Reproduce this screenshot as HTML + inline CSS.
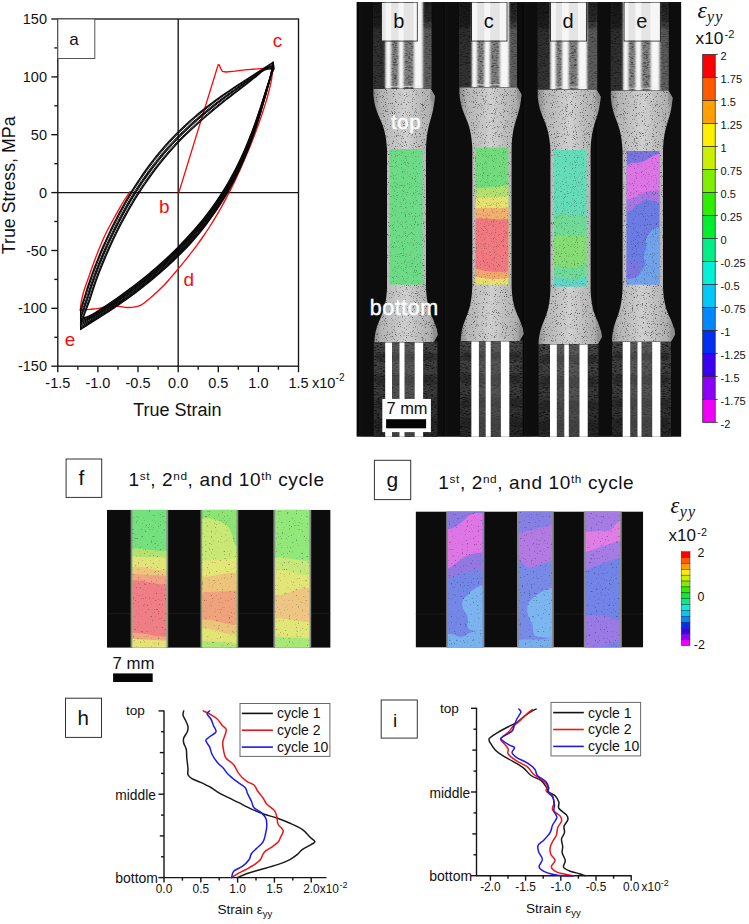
<!DOCTYPE html>
<html><head><meta charset="utf-8"><title>Figure</title>
<style>
html,body{margin:0;padding:0;background:#fff;}
body{width:749px;height:924px;overflow:hidden;font-family:"Liberation Sans",sans-serif;}
svg{display:block;position:absolute;left:0;top:0;font-family:"Liberation Sans",sans-serif;}
</style></head><body>
<svg width="749" height="924" viewBox="0 0 749 924">
<rect x="0" y="0" width="749" height="924" fill="#ffffff"/>
<g id="panelA">
<rect x="57.8" y="19.0" width="240.7" height="347.2" fill="none" stroke="#151515" stroke-width="1.35"/>
<line x1="178.2" y1="19.0" x2="178.2" y2="366.2" stroke="#151515" stroke-width="1.35"/>
<line x1="57.8" y1="192.6" x2="298.5" y2="192.6" stroke="#151515" stroke-width="1.35"/>
<line x1="51.3" y1="366.2" x2="57.8" y2="366.2" stroke="#151515" stroke-width="1.35"/>
<text x="47.0" y="371.3" font-size="14.5" text-anchor="end" fill="#111" >-150</text>
<line x1="54.3" y1="337.3" x2="57.8" y2="337.3" stroke="#151515" stroke-width="1.35"/>
<line x1="51.3" y1="308.3" x2="57.8" y2="308.3" stroke="#151515" stroke-width="1.35"/>
<text x="47.0" y="313.4" font-size="14.5" text-anchor="end" fill="#111" >-100</text>
<line x1="54.3" y1="279.4" x2="57.8" y2="279.4" stroke="#151515" stroke-width="1.35"/>
<line x1="51.3" y1="250.5" x2="57.8" y2="250.5" stroke="#151515" stroke-width="1.35"/>
<text x="47.0" y="255.6" font-size="14.5" text-anchor="end" fill="#111" >-50</text>
<line x1="54.3" y1="221.5" x2="57.8" y2="221.5" stroke="#151515" stroke-width="1.35"/>
<line x1="51.3" y1="192.6" x2="57.8" y2="192.6" stroke="#151515" stroke-width="1.35"/>
<text x="47.0" y="197.7" font-size="14.5" text-anchor="end" fill="#111" >0</text>
<line x1="54.3" y1="163.7" x2="57.8" y2="163.7" stroke="#151515" stroke-width="1.35"/>
<line x1="51.3" y1="134.7" x2="57.8" y2="134.7" stroke="#151515" stroke-width="1.35"/>
<text x="47.0" y="139.8" font-size="14.5" text-anchor="end" fill="#111" >50</text>
<line x1="54.3" y1="105.8" x2="57.8" y2="105.8" stroke="#151515" stroke-width="1.35"/>
<line x1="51.3" y1="76.9" x2="57.8" y2="76.9" stroke="#151515" stroke-width="1.35"/>
<text x="47.0" y="82.0" font-size="14.5" text-anchor="end" fill="#111" >100</text>
<line x1="54.3" y1="47.9" x2="57.8" y2="47.9" stroke="#151515" stroke-width="1.35"/>
<line x1="51.3" y1="19.0" x2="57.8" y2="19.0" stroke="#151515" stroke-width="1.35"/>
<text x="47.0" y="24.1" font-size="14.5" text-anchor="end" fill="#111" >150</text>
<line x1="57.8" y1="366.2" x2="57.8" y2="372.2" stroke="#151515" stroke-width="1.35"/>
<text x="57.8" y="388.0" font-size="14.5" text-anchor="middle" fill="#111" >-1.5</text>
<line x1="77.9" y1="366.2" x2="77.9" y2="369.7" stroke="#151515" stroke-width="1.35"/>
<line x1="97.9" y1="366.2" x2="97.9" y2="372.2" stroke="#151515" stroke-width="1.35"/>
<text x="97.9" y="388.0" font-size="14.5" text-anchor="middle" fill="#111" >-1.0</text>
<line x1="118.0" y1="366.2" x2="118.0" y2="369.7" stroke="#151515" stroke-width="1.35"/>
<line x1="138.0" y1="366.2" x2="138.0" y2="372.2" stroke="#151515" stroke-width="1.35"/>
<text x="138.0" y="388.0" font-size="14.5" text-anchor="middle" fill="#111" >-0.5</text>
<line x1="158.1" y1="366.2" x2="158.1" y2="369.7" stroke="#151515" stroke-width="1.35"/>
<line x1="178.2" y1="366.2" x2="178.2" y2="372.2" stroke="#151515" stroke-width="1.35"/>
<text x="178.2" y="388.0" font-size="14.5" text-anchor="middle" fill="#111" >0.0</text>
<line x1="198.2" y1="366.2" x2="198.2" y2="369.7" stroke="#151515" stroke-width="1.35"/>
<line x1="218.3" y1="366.2" x2="218.3" y2="372.2" stroke="#151515" stroke-width="1.35"/>
<text x="218.3" y="388.0" font-size="14.5" text-anchor="middle" fill="#111" >0.5</text>
<line x1="238.3" y1="366.2" x2="238.3" y2="369.7" stroke="#151515" stroke-width="1.35"/>
<line x1="258.4" y1="366.2" x2="258.4" y2="372.2" stroke="#151515" stroke-width="1.35"/>
<text x="258.4" y="388.0" font-size="14.5" text-anchor="middle" fill="#111" >1.0</text>
<line x1="278.4" y1="366.2" x2="278.4" y2="369.7" stroke="#151515" stroke-width="1.35"/>
<line x1="298.5" y1="366.2" x2="298.5" y2="372.2" stroke="#151515" stroke-width="1.35"/>
<text x="298.5" y="388.0" font-size="14.5" text-anchor="middle" fill="#111" >1.5</text>
<text x="312" y="388.0" font-size="14.5" text-anchor="start" fill="#111" >x10</text>
<text x="335.6" y="381" font-size="10" text-anchor="start" fill="#111" >-2</text>
<text x="177.4" y="416.3" font-size="18" text-anchor="middle" fill="#111" >True Strain</text>
<text transform="translate(14.6,185.3) rotate(-90)" font-size="17.8" text-anchor="middle" fill="#111">True Stress, MPa</text>
<rect x="57.8" y="19.0" width="37" height="39.5" fill="#fff" stroke="#555" stroke-width="1"/>
<text x="74" y="45.3" font-size="17" text-anchor="middle" fill="#111" >a</text>
<path d="M178.9,192.4 L218.2,64.6 L219.3,64.8 L220.6,68.5 L222.4,71.3 L226.0,72.0 L235.0,71.2 L245.0,69.8 L258.0,68.8 L272.7,67.6" fill="none" stroke="#fa0a0a" stroke-width="1.35" stroke-linejoin="round" stroke-linecap="round" />
<path d="M272.9,67.6 C272.7,69.4 272.3,74.8 271.7,78.3 C271.1,81.8 270.3,85.3 269.5,88.8 C268.7,92.3 267.7,95.7 266.8,99.1 C265.8,102.6 264.7,106.0 263.6,109.4 C262.5,112.9 261.4,116.3 260.2,119.6 C259.0,123.0 257.8,126.4 256.5,129.8 C255.2,133.2 254.0,136.5 252.6,139.9 C251.3,143.2 250.0,146.5 248.6,149.9 C247.2,153.2 245.8,156.5 244.4,159.8 C243.0,163.1 241.5,166.4 240.1,169.7 C238.6,172.9 237.1,176.2 235.6,179.4 C234.0,182.7 232.5,185.9 230.9,189.1 C229.3,192.3 227.6,195.5 226.0,198.6 C224.3,201.8 222.6,204.9 220.8,208.1 C219.1,211.2 217.3,214.3 215.4,217.3 C213.6,220.4 211.7,223.5 209.8,226.5 C207.8,229.5 205.9,232.5 203.8,235.5 C201.8,238.4 199.7,241.4 197.6,244.3 C195.5,247.2 193.3,250.1 191.1,252.9 C188.9,255.8 186.7,258.6 184.4,261.4 C182.1,264.2 179.8,267.0 177.5,269.7 C175.2,272.5 172.9,275.2 170.5,277.9 C168.2,280.5 166.5,282.6 163.4,285.8 C160.3,289.0 155.4,293.6 151.7,296.8 C148.0,300.0 144.3,303.2 141.4,304.9 C138.5,306.6 136.5,306.7 134.1,307.1 C131.7,307.5 129.2,307.6 126.7,307.5 C124.2,307.4 121.9,306.6 119.4,306.4 C117.0,306.2 114.5,306.0 112.0,306.1 C109.5,306.2 107.2,306.7 104.7,307.1 C102.2,307.5 99.8,308.2 97.3,308.6 C94.8,309.0 92.8,309.0 90.0,309.3 C87.2,309.6 81.9,310.1 80.3,310.2" fill="none" stroke="#fa0a0a" stroke-width="1.35" stroke-linejoin="round" stroke-linecap="round" />
<path d="M80.3,310.2 C80.5,308.8 80.7,305.0 81.2,302.0 C81.8,299.0 82.4,296.0 83.6,292.0 C84.8,288.0 86.6,283.1 88.4,278.0 C90.2,272.9 92.2,266.8 94.2,261.5 C96.2,256.2 98.2,251.0 100.3,246.0 C102.4,241.0 104.5,236.1 106.8,231.5 C109.0,226.9 111.5,222.8 113.8,218.5 C116.1,214.2 118.8,209.5 120.8,206.0 C122.8,202.5 124.4,199.9 126.0,197.5 C127.6,195.1 129.5,192.5 130.2,191.5" fill="none" stroke="#fa0a0a" stroke-width="1.35" stroke-linejoin="round" stroke-linecap="round" />
<path d="M80.6,309.5 C81.2,307.6 83.1,301.9 84.3,298.1 C85.5,294.2 86.6,290.4 87.8,286.6 C89.1,282.8 90.4,279.0 91.7,275.3 C93.0,271.6 94.4,267.8 95.9,264.1 C97.3,260.4 98.8,256.7 100.3,253.1 C101.8,249.4 103.4,245.7 105.1,242.1 C106.7,238.5 108.4,234.8 110.1,231.2 C111.8,227.6 113.6,224.1 115.4,220.5 C117.2,216.9 119.0,213.4 121.0,209.9 C122.9,206.4 124.8,202.9 126.8,199.4 C128.9,196.0 130.9,192.6 133.0,189.2 C135.2,185.8 137.3,182.4 139.6,179.1 C141.8,175.8 144.1,172.5 146.4,169.3 C148.7,166.1 151.1,162.9 153.6,159.8 C156.0,156.6 158.5,153.5 161.1,150.5 C163.7,147.5 166.3,144.5 169.0,141.6 C171.7,138.6 174.4,135.8 177.2,133.0 C180.1,130.1 182.9,127.4 185.8,124.7 C188.8,122.0 191.7,119.4 194.8,116.8 C197.8,114.2 200.9,111.7 204.0,109.2 C207.1,106.7 210.3,104.3 213.5,101.9 C216.7,99.5 220.0,97.2 223.2,94.9 C226.5,92.6 229.8,90.4 233.2,88.1 C236.5,85.9 239.9,83.7 243.2,81.6 C246.6,79.4 250.0,77.2 253.3,75.1 C256.7,72.9 260.1,70.7 263.4,68.6 C266.7,66.4 271.7,63.3 273.3,62.2" fill="none" stroke="#0a0a0a" stroke-width="1.5" stroke-linejoin="round" stroke-linecap="round" />
<path d="M80.6,311.8 C81.4,309.5 83.8,302.4 85.1,298.3 C86.5,294.1 87.4,290.7 88.7,286.9 C89.9,283.1 91.2,279.3 92.5,275.6 C93.9,271.9 95.3,268.2 96.7,264.5 C98.2,260.8 99.6,257.1 101.2,253.4 C102.7,249.8 104.3,246.1 105.9,242.5 C107.6,238.9 109.2,235.3 111.0,231.7 C112.7,228.1 114.4,224.5 116.3,221.0 C118.1,217.4 119.9,213.9 121.9,210.4 C123.8,206.9 125.7,203.4 127.7,200.0 C129.8,196.5 131.8,193.1 133.9,189.7 C136.0,186.4 138.2,183.0 140.4,179.7 C142.7,176.4 144.9,173.2 147.3,169.9 C149.6,166.7 152.0,163.6 154.4,160.4 C156.9,157.3 159.4,154.2 162.0,151.2 C164.5,148.2 167.1,145.2 169.8,142.3 C172.5,139.4 175.2,136.5 178.0,133.7 C180.8,130.9 183.7,128.2 186.6,125.5 C189.5,122.8 192.4,120.2 195.4,117.6 C198.5,115.0 201.5,112.5 204.6,110.0 C207.7,107.5 210.9,105.1 214.0,102.7 C217.2,100.3 220.5,97.9 223.7,95.6 C227.0,93.3 230.3,91.0 233.6,88.7 C236.9,86.5 240.2,84.3 243.6,82.1 C246.9,79.8 250.3,77.6 253.6,75.4 C256.9,73.2 260.2,70.8 263.5,68.8 C266.8,66.8 271.7,64.1 273.4,63.2" fill="none" stroke="#0a0a0a" stroke-width="1.0" stroke-linejoin="round" stroke-linecap="round" />
<path d="M80.6,315.1 C81.6,312.3 84.8,303.3 86.4,298.6 C87.9,294.0 88.7,291.0 89.9,287.3 C91.2,283.5 92.5,279.8 93.8,276.0 C95.1,272.3 96.5,268.6 98.0,264.9 C99.4,261.3 100.9,257.6 102.5,254.0 C104.0,250.3 105.6,246.7 107.2,243.1 C108.9,239.5 110.5,235.9 112.3,232.3 C114.0,228.7 115.7,225.1 117.6,221.6 C119.4,218.1 121.2,214.6 123.2,211.1 C125.1,207.6 127.0,204.1 129.0,200.7 C131.1,197.3 133.1,193.9 135.2,190.5 C137.4,187.2 139.5,183.9 141.7,180.6 C144.0,177.3 146.2,174.1 148.6,170.9 C150.9,167.7 153.3,164.5 155.7,161.4 C158.1,158.3 160.6,155.2 163.2,152.2 C165.7,149.2 168.3,146.3 171.0,143.4 C173.7,140.5 176.4,137.7 179.2,134.9 C181.9,132.1 184.8,129.4 187.7,126.7 C190.5,124.0 193.5,121.4 196.5,118.8 C199.4,116.2 202.5,113.6 205.5,111.1 C208.6,108.6 211.7,106.2 214.9,103.8 C218.0,101.3 221.2,99.0 224.4,96.6 C227.6,94.3 230.9,91.9 234.2,89.6 C237.4,87.3 240.7,85.1 244.0,82.8 C247.3,80.5 250.6,78.3 253.9,76.0 C257.2,73.7 260.5,71.0 263.7,69.1 C267.0,67.2 271.9,65.4 273.5,64.6" fill="none" stroke="#0a0a0a" stroke-width="1.0" stroke-linejoin="round" stroke-linecap="round" />
<path d="M80.6,317.3 C81.7,314.2 85.5,303.9 87.2,298.9 C88.9,293.9 89.5,291.3 90.8,287.5 C92.0,283.8 93.3,280.1 94.7,276.4 C96.0,272.6 97.4,269.0 98.8,265.3 C100.3,261.6 101.8,258.0 103.3,254.3 C104.9,250.7 106.5,247.1 108.1,243.5 C109.7,239.9 111.4,236.3 113.1,232.7 C114.9,229.1 116.6,225.6 118.5,222.1 C120.3,218.5 122.1,215.0 124.1,211.6 C126.0,208.1 127.9,204.7 129.9,201.2 C132.0,197.8 134.0,194.4 136.1,191.1 C138.2,187.8 140.4,184.4 142.6,181.2 C144.9,177.9 147.1,174.7 149.5,171.5 C151.8,168.3 154.1,165.2 156.6,162.1 C159.0,159.0 161.5,155.9 164.0,153.0 C166.6,150.0 169.1,147.0 171.8,144.1 C174.5,141.2 177.2,138.4 179.9,135.6 C182.7,132.9 185.5,130.2 188.4,127.5 C191.3,124.8 194.2,122.2 197.1,119.6 C200.1,117.0 203.1,114.4 206.2,111.9 C209.2,109.4 212.3,107.0 215.4,104.5 C218.5,102.1 221.7,99.7 224.9,97.3 C228.1,94.9 231.3,92.6 234.6,90.3 C237.8,87.9 241.1,85.6 244.3,83.3 C247.6,81.0 250.9,78.7 254.2,76.3 C257.4,74.0 260.6,71.1 263.9,69.3 C267.1,67.5 272.0,66.2 273.6,65.6" fill="none" stroke="#0a0a0a" stroke-width="1.35" stroke-linejoin="round" stroke-linecap="round" />
<path d="M80.6,318.9 C81.8,315.6 86.0,304.3 87.8,299.1 C89.6,293.9 90.1,291.5 91.4,287.7 C92.6,284.0 93.9,280.3 95.3,276.6 C96.6,272.9 98.0,269.2 99.5,265.5 C100.9,261.9 102.4,258.2 104.0,254.6 C105.5,251.0 107.1,247.3 108.7,243.7 C110.4,240.1 112.1,236.6 113.8,233.0 C115.5,229.5 117.3,225.9 119.1,222.4 C120.9,218.9 122.8,215.4 124.7,211.9 C126.6,208.5 128.6,205.0 130.6,201.6 C132.6,198.2 134.7,194.8 136.8,191.5 C138.9,188.2 141.1,184.9 143.3,181.6 C145.5,178.4 147.8,175.1 150.1,172.0 C152.4,168.8 154.8,165.7 157.2,162.6 C159.6,159.5 162.1,156.5 164.6,153.5 C167.2,150.5 169.7,147.6 172.4,144.7 C175.0,141.8 177.7,139.0 180.5,136.2 C183.3,133.4 186.1,130.7 188.9,128.1 C191.8,125.4 194.7,122.8 197.6,120.2 C200.6,117.6 203.6,115.0 206.6,112.5 C209.6,110.0 212.7,107.5 215.8,105.1 C218.9,102.6 222.1,100.2 225.3,97.8 C228.4,95.4 231.6,93.1 234.9,90.7 C238.1,88.3 241.3,86.0 244.6,83.7 C247.8,81.3 251.1,79.0 254.3,76.6 C257.6,74.3 260.7,71.2 264.0,69.5 C267.2,67.8 272.1,66.8 273.7,66.3" fill="none" stroke="#0a0a0a" stroke-width="0.9" stroke-linejoin="round" stroke-linecap="round" />
<path d="M80.6,322.1 C82.0,318.3 87.0,305.1 89.0,299.4 C91.0,293.7 91.3,291.9 92.6,288.1 C93.8,284.4 95.1,280.7 96.5,277.0 C97.8,273.3 99.2,269.6 100.7,266.0 C102.1,262.3 103.6,258.7 105.2,255.1 C106.7,251.5 108.3,247.9 110.0,244.3 C111.6,240.7 113.3,237.1 115.0,233.6 C116.8,230.1 118.5,226.5 120.3,223.0 C122.2,219.5 124.0,216.1 126.0,212.6 C127.9,209.2 129.8,205.7 131.8,202.3 C133.9,199.0 135.9,195.6 138.0,192.3 C140.1,189.0 142.3,185.7 144.5,182.5 C146.7,179.2 149.0,176.0 151.3,172.9 C153.6,169.7 156.0,166.6 158.4,163.5 C160.8,160.5 163.3,157.4 165.8,154.5 C168.3,151.5 170.9,148.6 173.5,145.7 C176.2,142.8 178.8,140.0 181.6,137.3 C184.3,134.5 187.1,131.8 190.0,129.2 C192.8,126.5 195.7,123.9 198.6,121.3 C201.5,118.7 204.5,116.2 207.5,113.6 C210.5,111.1 213.5,108.6 216.6,106.1 C219.7,103.7 222.8,101.2 225.9,98.8 C229.1,96.4 232.2,94.0 235.4,91.6 C238.6,89.1 241.8,86.8 245.0,84.4 C248.2,82.0 251.5,79.6 254.7,77.1 C257.8,74.7 261.0,71.4 264.2,69.8 C267.4,68.2 272.2,68.0 273.8,67.7" fill="none" stroke="#0a0a0a" stroke-width="1.0" stroke-linejoin="round" stroke-linecap="round" />
<path d="M80.6,324.5 C82.1,320.4 87.7,305.7 89.9,299.7 C92.0,293.7 92.2,292.1 93.5,288.4 C94.7,284.7 96.0,281.0 97.4,277.3 C98.7,273.6 100.2,270.0 101.6,266.4 C103.1,262.7 104.6,259.1 106.1,255.5 C107.7,251.9 109.3,248.3 110.9,244.7 C112.5,241.1 114.2,237.6 116.0,234.0 C117.7,230.5 119.5,227.0 121.3,223.5 C123.1,220.0 125.0,216.6 126.9,213.1 C128.8,209.7 130.8,206.3 132.8,202.9 C134.8,199.5 136.9,196.2 139.0,192.9 C141.1,189.6 143.3,186.3 145.5,183.1 C147.7,179.9 150.0,176.7 152.3,173.5 C154.6,170.4 156.9,167.3 159.3,164.3 C161.7,161.2 164.2,158.2 166.7,155.2 C169.2,152.3 171.8,149.4 174.4,146.5 C177.0,143.7 179.7,140.9 182.4,138.1 C185.1,135.4 187.9,132.7 190.8,130.0 C193.6,127.4 196.4,124.8 199.3,122.2 C202.2,119.6 205.2,117.0 208.2,114.5 C211.1,111.9 214.2,109.4 217.2,106.9 C220.2,104.5 223.3,102.0 226.4,99.5 C229.6,97.1 232.7,94.6 235.9,92.2 C239.0,89.8 242.2,87.3 245.4,84.9 C248.5,82.4 251.7,80.0 254.9,77.5 C258.1,75.0 261.1,71.5 264.3,70.0 C267.5,68.5 272.3,68.9 273.9,68.7" fill="none" stroke="#0a0a0a" stroke-width="1.5" stroke-linejoin="round" stroke-linecap="round" />
<path d="M273.3,62.2 C272.8,64.6 271.5,72.0 270.3,76.3 C269.2,80.6 267.9,84.1 266.7,88.0 C265.4,91.9 264.2,95.9 262.9,99.8 C261.7,103.8 260.4,107.8 259.0,111.7 C257.7,115.7 256.3,119.6 254.9,123.6 C253.5,127.5 252.1,131.4 250.5,135.3 C249.0,139.2 247.5,143.1 245.8,146.9 C244.2,150.7 242.5,154.5 240.8,158.2 C239.0,162.0 237.2,165.7 235.4,169.4 C233.5,173.0 231.5,176.6 229.5,180.2 C227.5,183.7 225.4,187.2 223.3,190.7 C221.1,194.2 218.9,197.6 216.6,200.9 C214.3,204.3 212.0,207.6 209.5,210.9 C207.1,214.1 204.6,217.3 202.1,220.5 C199.5,223.6 196.9,226.7 194.2,229.8 C191.5,232.8 188.7,235.8 186.0,238.8 C183.2,241.8 180.4,244.7 177.5,247.7 C174.6,250.6 171.7,253.4 168.7,256.3 C165.7,259.1 162.7,261.9 159.6,264.6 C156.5,267.4 153.4,270.0 150.2,272.7 C147.0,275.4 143.8,278.0 140.6,280.5 C137.3,283.1 134.0,285.7 130.7,288.1 C127.4,290.6 124.1,293.1 120.7,295.5 C117.4,297.9 114.0,300.2 110.6,302.5 C107.2,304.8 103.7,307.1 100.3,309.3 C96.9,311.5 93.3,314.1 90.0,315.6 C86.8,317.2 82.2,318.0 80.6,318.5" fill="none" stroke="#0a0a0a" stroke-width="1.3" stroke-linejoin="round" stroke-linecap="round" />
<path d="M273.4,63.0 C272.9,65.2 271.5,72.2 270.4,76.3 C269.3,80.5 268.0,84.1 266.8,88.0 C265.6,91.9 264.3,95.9 263.1,99.9 C261.8,103.8 260.6,107.8 259.2,111.8 C257.9,115.7 256.6,119.7 255.2,123.7 C253.8,127.6 252.3,131.5 250.8,135.4 C249.3,139.3 247.8,143.2 246.2,147.0 C244.5,150.9 242.9,154.7 241.1,158.4 C239.4,162.2 237.6,165.9 235.7,169.5 C233.9,173.2 231.9,176.8 229.9,180.4 C227.9,184.0 225.8,187.5 223.7,191.0 C221.6,194.4 219.3,197.9 217.1,201.2 C214.8,204.6 212.4,207.9 210.0,211.2 C207.6,214.5 205.1,217.7 202.6,220.9 C200.0,224.0 197.4,227.2 194.7,230.2 C192.0,233.3 189.3,236.3 186.5,239.3 C183.7,242.3 180.9,245.2 178.0,248.2 C175.1,251.1 172.2,254.0 169.2,256.8 C166.2,259.6 163.1,262.4 160.1,265.1 C157.0,267.9 153.8,270.6 150.7,273.3 C147.5,275.9 144.3,278.5 141.0,281.1 C137.8,283.7 134.5,286.2 131.2,288.7 C127.9,291.2 124.5,293.7 121.1,296.1 C117.8,298.5 114.4,300.8 111.0,303.1 C107.6,305.4 104.1,307.7 100.7,309.9 C97.3,312.1 93.7,314.6 90.4,316.3 C87.0,317.9 82.2,319.3 80.6,319.9" fill="none" stroke="#0a0a0a" stroke-width="1.3" stroke-linejoin="round" stroke-linecap="round" />
<path d="M273.4,63.8 C273.0,65.9 271.6,72.3 270.5,76.3 C269.4,80.4 268.1,84.1 266.9,88.1 C265.7,92.0 264.5,96.0 263.3,99.9 C262.0,103.9 260.8,107.9 259.5,111.9 C258.2,115.8 256.9,119.8 255.5,123.8 C254.1,127.7 252.7,131.7 251.2,135.6 C249.7,139.5 248.2,143.3 246.6,147.2 C245.0,151.0 243.3,154.8 241.6,158.6 C239.9,162.4 238.1,166.1 236.2,169.8 C234.4,173.5 232.5,177.1 230.5,180.7 C228.5,184.3 226.4,187.8 224.3,191.3 C222.1,194.8 219.9,198.2 217.7,201.6 C215.4,205.0 213.0,208.4 210.6,211.7 C208.2,214.9 205.7,218.2 203.2,221.4 C200.7,224.6 198.0,227.7 195.4,230.8 C192.7,233.9 190.0,236.9 187.2,239.9 C184.4,242.9 181.5,245.9 178.7,248.8 C175.8,251.7 172.8,254.6 169.8,257.5 C166.8,260.3 163.8,263.1 160.7,265.8 C157.6,268.6 154.4,271.3 151.3,274.0 C148.1,276.6 144.9,279.3 141.6,281.8 C138.3,284.4 135.0,287.0 131.7,289.5 C128.4,292.0 125.1,294.4 121.7,296.8 C118.3,299.2 114.9,301.6 111.5,303.9 C108.1,306.2 104.6,308.5 101.2,310.7 C97.7,312.9 94.3,315.3 90.8,317.1 C87.4,318.9 82.3,320.6 80.6,321.2" fill="none" stroke="#0a0a0a" stroke-width="1.3" stroke-linejoin="round" stroke-linecap="round" />
<path d="M273.5,64.6 C273.0,66.6 271.6,72.4 270.5,76.4 C269.4,80.3 268.2,84.1 267.0,88.1 C265.8,92.0 264.6,96.0 263.4,100.0 C262.2,103.9 261.0,107.9 259.7,111.9 C258.4,115.9 257.1,119.9 255.7,123.8 C254.3,127.8 252.9,131.7 251.4,135.6 C250.0,139.6 248.4,143.5 246.9,147.3 C245.3,151.2 243.6,155.0 241.9,158.8 C240.2,162.5 238.4,166.3 236.6,170.0 C234.7,173.7 232.8,177.3 230.8,180.9 C228.9,184.5 226.8,188.1 224.7,191.6 C222.6,195.1 220.4,198.5 218.1,201.9 C215.8,205.3 213.5,208.7 211.1,212.0 C208.7,215.3 206.2,218.5 203.7,221.7 C201.1,224.9 198.5,228.1 195.8,231.2 C193.2,234.3 190.4,237.3 187.7,240.4 C184.9,243.4 182.0,246.4 179.1,249.3 C176.2,252.2 173.3,255.1 170.3,257.9 C167.3,260.8 164.2,263.6 161.1,266.3 C158.0,269.1 154.9,271.8 151.7,274.5 C148.5,277.2 145.3,279.8 142.0,282.4 C138.8,285.0 135.5,287.5 132.1,290.0 C128.8,292.5 125.4,295.0 122.1,297.4 C118.7,299.8 115.3,302.1 111.9,304.4 C108.4,306.8 105.0,309.0 101.5,311.2 C98.1,313.4 94.7,315.8 91.2,317.7 C87.7,319.6 82.4,321.8 80.6,322.6" fill="none" stroke="#0a0a0a" stroke-width="1.3" stroke-linejoin="round" stroke-linecap="round" />
<path d="M273.6,65.5 C273.1,67.3 271.7,72.6 270.6,76.4 C269.5,80.1 268.3,84.2 267.1,88.1 C265.9,92.1 264.8,96.0 263.6,100.0 C262.4,104.0 261.1,108.0 259.9,112.0 C258.6,116.0 257.3,120.0 255.9,123.9 C254.6,127.9 253.2,131.8 251.7,135.8 C250.3,139.7 248.8,143.6 247.2,147.4 C245.6,151.3 244.0,155.1 242.3,158.9 C240.6,162.7 238.8,166.5 237.0,170.2 C235.1,173.9 233.2,177.5 231.3,181.1 C229.3,184.7 227.2,188.3 225.1,191.8 C223.0,195.3 220.8,198.8 218.6,202.2 C216.3,205.6 214.0,209.0 211.6,212.3 C209.2,215.6 206.7,218.9 204.2,222.1 C201.6,225.4 199.0,228.5 196.4,231.6 C193.7,234.8 191.0,237.8 188.2,240.9 C185.4,243.9 182.6,246.9 179.7,249.8 C176.8,252.7 173.8,255.6 170.8,258.5 C167.8,261.3 164.7,264.1 161.6,266.9 C158.5,269.7 155.4,272.4 152.2,275.1 C149.0,277.7 145.7,280.4 142.5,283.0 C139.2,285.5 135.9,288.1 132.6,290.6 C129.2,293.1 125.9,295.6 122.5,298.0 C119.1,300.4 115.7,302.7 112.3,305.1 C108.8,307.4 105.4,309.6 101.9,311.9 C98.5,314.1 95.1,316.3 91.5,318.3 C88.0,320.3 82.4,323.1 80.6,324.0" fill="none" stroke="#0a0a0a" stroke-width="1.3" stroke-linejoin="round" stroke-linecap="round" />
<path d="M273.7,66.3 C273.2,68.0 271.7,72.7 270.7,76.4 C269.6,80.0 268.4,84.2 267.3,88.2 C266.1,92.1 265.0,96.1 263.8,100.1 C262.6,104.1 261.4,108.1 260.1,112.1 C258.9,116.1 257.6,120.1 256.3,124.0 C254.9,128.0 253.5,132.0 252.1,135.9 C250.6,139.8 249.2,143.7 247.6,147.6 C246.0,151.5 244.4,155.3 242.7,159.1 C241.1,162.9 239.3,166.7 237.5,170.4 C235.7,174.1 233.8,177.8 231.8,181.4 C229.8,185.1 227.8,188.6 225.7,192.2 C223.6,195.7 221.4,199.2 219.2,202.6 C216.9,206.1 214.6,209.4 212.2,212.8 C209.8,216.1 207.4,219.4 204.8,222.6 C202.3,225.9 199.7,229.1 197.1,232.2 C194.4,235.4 191.7,238.5 188.9,241.5 C186.1,244.5 183.2,247.5 180.3,250.5 C177.4,253.4 174.5,256.3 171.4,259.2 C168.4,262.0 165.4,264.8 162.2,267.6 C159.1,270.4 156.0,273.1 152.8,275.8 C149.6,278.5 146.3,281.1 143.1,283.7 C139.8,286.3 136.5,288.8 133.1,291.4 C129.8,293.9 126.4,296.3 123.1,298.7 C119.7,301.2 116.2,303.5 112.8,305.9 C109.4,308.2 105.9,310.4 102.5,312.7 C99.0,314.9 95.6,317.0 92.0,319.2 C88.4,321.3 82.5,324.3 80.6,325.4" fill="none" stroke="#0a0a0a" stroke-width="1.3" stroke-linejoin="round" stroke-linecap="round" />
<path d="M273.8,67.1 C273.2,68.6 271.8,72.9 270.7,76.4 C269.7,79.9 268.5,84.2 267.4,88.2 C266.3,92.2 265.2,96.2 264.0,100.1 C262.8,104.1 261.6,108.2 260.4,112.2 C259.2,116.2 257.9,120.2 256.6,124.1 C255.3,128.1 253.9,132.1 252.5,136.0 C251.1,140.0 249.6,143.9 248.1,147.8 C246.5,151.7 244.9,155.5 243.2,159.3 C241.6,163.2 239.8,166.9 238.0,170.7 C236.2,174.4 234.4,178.1 232.4,181.8 C230.5,185.4 228.4,189.0 226.3,192.6 C224.2,196.1 222.1,199.6 219.8,203.1 C217.6,206.5 215.3,209.9 212.9,213.3 C210.5,216.6 208.1,220.0 205.6,223.2 C203.0,226.5 200.4,229.7 197.8,232.9 C195.1,236.0 192.4,239.1 189.6,242.2 C186.9,245.3 184.0,248.3 181.1,251.2 C178.2,254.2 175.2,257.1 172.2,259.9 C169.1,262.8 166.1,265.6 162.9,268.4 C159.8,271.2 156.7,273.9 153.4,276.6 C150.2,279.3 147.0,281.9 143.7,284.5 C140.4,287.1 137.1,289.7 133.8,292.2 C130.4,294.7 127.1,297.2 123.7,299.6 C120.3,302.0 116.8,304.4 113.4,306.7 C110.0,309.0 106.5,311.3 103.0,313.5 C99.5,315.8 96.2,317.9 92.5,320.1 C88.8,322.3 82.6,325.6 80.6,326.8" fill="none" stroke="#0a0a0a" stroke-width="1.3" stroke-linejoin="round" stroke-linecap="round" />
<path d="M273.8,67.9 C273.3,69.3 271.9,73.0 270.8,76.4 C269.7,79.8 268.6,84.3 267.5,88.2 C266.4,92.2 265.3,96.2 264.1,100.2 C263.0,104.2 261.8,108.2 260.6,112.2 C259.4,116.2 258.1,120.2 256.8,124.2 C255.5,128.2 254.2,132.2 252.8,136.1 C251.4,140.1 249.9,144.0 248.4,147.9 C246.8,151.8 245.3,155.7 243.6,159.5 C241.9,163.3 240.2,167.1 238.4,170.9 C236.6,174.6 234.8,178.3 232.8,182.0 C230.9,185.6 228.9,189.3 226.8,192.8 C224.7,196.4 222.5,199.9 220.3,203.4 C218.1,206.8 215.8,210.3 213.4,213.6 C211.0,217.0 208.6,220.3 206.1,223.6 C203.5,226.9 201.0,230.1 198.3,233.3 C195.7,236.5 193.0,239.6 190.2,242.7 C187.4,245.8 184.5,248.8 181.6,251.7 C178.7,254.7 175.7,257.6 172.7,260.5 C169.6,263.3 166.5,266.2 163.4,268.9 C160.3,271.7 157.1,274.5 153.9,277.1 C150.7,279.8 147.5,282.5 144.2,285.1 C140.9,287.7 137.6,290.3 134.2,292.8 C130.9,295.3 127.5,297.8 124.1,300.2 C120.7,302.6 117.2,305.0 113.8,307.3 C110.4,309.6 106.9,311.9 103.4,314.2 C99.9,316.4 96.7,318.4 92.9,320.7 C89.1,323.0 82.6,326.9 80.6,328.1" fill="none" stroke="#0a0a0a" stroke-width="1.3" stroke-linejoin="round" stroke-linecap="round" />
<path d="M273.9,68.7 C273.4,70.0 271.9,73.2 270.9,76.4 C269.8,79.7 268.7,84.3 267.6,88.3 C266.5,92.2 265.4,96.2 264.3,100.2 C263.2,104.2 262.0,108.3 260.8,112.3 C259.6,116.3 258.4,120.3 257.1,124.3 C255.8,128.3 254.5,132.3 253.1,136.3 C251.7,140.2 250.2,144.2 248.7,148.1 C247.2,152.0 245.6,155.8 244.0,159.7 C242.3,163.5 240.6,167.3 238.8,171.1 C237.0,174.8 235.2,178.5 233.3,182.2 C231.3,185.9 229.3,189.5 227.2,193.1 C225.2,196.7 223.0,200.2 220.8,203.7 C218.6,207.2 216.3,210.6 213.9,214.0 C211.5,217.4 209.1,220.7 206.6,224.0 C204.1,227.3 201.5,230.6 198.9,233.8 C196.2,237.0 193.5,240.1 190.7,243.2 C188.0,246.3 185.1,249.3 182.1,252.3 C179.2,255.2 176.2,258.2 173.2,261.0 C170.2,263.9 167.1,266.7 163.9,269.5 C160.8,272.3 157.6,275.0 154.4,277.7 C151.2,280.4 147.9,283.1 144.6,285.7 C141.4,288.3 138.0,290.9 134.7,293.4 C131.3,295.9 127.9,298.4 124.5,300.8 C121.1,303.2 117.7,305.6 114.2,308.0 C110.8,310.3 107.3,312.6 103.8,314.8 C100.3,317.0 97.1,318.9 93.2,321.4 C89.4,323.8 82.7,328.1 80.6,329.5" fill="none" stroke="#0a0a0a" stroke-width="1.3" stroke-linejoin="round" stroke-linecap="round" />
<path d="M80.6,309.5 L80.6,329.6" fill="none" stroke="#0a0a0a" stroke-width="1.2" stroke-linejoin="round" stroke-linecap="round" />
<text x="277.5" y="47.2" font-size="19" text-anchor="middle" fill="#fa0a0a" >c</text>
<text x="164.3" y="212.6" font-size="19" text-anchor="middle" fill="#fa0a0a" >b</text>
<text x="188.8" y="286" font-size="19" text-anchor="middle" fill="#fa0a0a" >d</text>
<text x="70" y="346" font-size="19" text-anchor="middle" fill="#fa0a0a" >e</text>
</g>
<defs>
<filter id="speck" x="0" y="0" width="100%" height="100%">
<feTurbulence type="fractalNoise" baseFrequency="1.1" numOctaves="2" seed="3" result="n"/>
<feColorMatrix in="n" type="matrix" values="0 0 0 0 0  0 0 0 0 0  0 0 0 0 0  6 0 0 0 -3.6" result="a"/>
<feComposite in="a" in2="SourceGraphic" operator="in"/>
</filter>
<filter id="grain" x="0" y="0" width="100%" height="100%">
<feTurbulence type="fractalNoise" baseFrequency="0.35 0.9" numOctaves="2" seed="7" result="n"/>
<feColorMatrix in="n" type="matrix" values="0 0 0 0 0  0 0 0 0 0  0 0 0 0 0  3.2 0 0 0 -1.45" result="a"/>
<feComposite in="a" in2="SourceGraphic" operator="in"/>
</filter>
<filter id="blur1"><feGaussianBlur stdDeviation="0.6"/></filter>
<filter id="blur1b" x="-30%" width="160%"><feGaussianBlur stdDeviation="0.9 0.3"/></filter>
<filter id="blur2"><feGaussianBlur stdDeviation="1.2"/></filter>
<filter id="blur3"><feGaussianBlur stdDeviation="2.2"/></filter>
<linearGradient id="specG" x1="0" x2="1" y1="0" y2="0">
<stop offset="0" stop-color="#8a8a8a"/><stop offset="0.12" stop-color="#b4b4b4"/><stop offset="0.5" stop-color="#d0d0d0"/><stop offset="0.88" stop-color="#b0b0b0"/><stop offset="1" stop-color="#808080"/>
</linearGradient>
<linearGradient id="gripTop" x1="0" x2="0" y1="0" y2="1">
<stop offset="0" stop-color="#303030"/><stop offset="0.35" stop-color="#484848"/><stop offset="1" stop-color="#545454"/>
</linearGradient>
<linearGradient id="gripBot" x1="0" x2="0" y1="0" y2="1">
<stop offset="0" stop-color="#464646"/><stop offset="0.5" stop-color="#3c3c3c"/><stop offset="1" stop-color="#282828"/>
</linearGradient>
<clipPath id="photoClip"><rect x="356.4" y="2.0" width="324.8" height="434.8"/></clipPath>
</defs>
<g id="panelPhoto" clip-path="url(#photoClip)">
<rect x="356.4" y="2.0" width="324.8" height="434.8" fill="#0b0b0b"/>
<rect x="359" y="2.0" width="86.5" height="434.8" fill="#111111" filter="url(#blur3)"/>
<rect x="445" y="2.0" width="86" height="434.8" fill="#111111" filter="url(#blur3)"/>
<rect x="523.7" y="2.0" width="87.5" height="434.8" fill="#111111" filter="url(#blur3)"/>
<rect x="596.8" y="2.0" width="85.90000000000009" height="434.8" fill="#111111" filter="url(#blur3)"/>
<rect x="373" y="2.0" width="58.5" height="87.0" fill="url(#gripTop)"/>
<rect x="373" y="2.0" width="58.5" height="87.0" fill="#111" opacity="0.55" filter="url(#grain)"/>
<rect x="373" y="2.0" width="12.5" height="87.0" fill="#101010" opacity="0.45"/>
<rect x="422.7" y="22.0" width="8.8" height="67.0" fill="#8a8a8a" opacity="0.25"/>
<rect x="373" y="2.0" width="58.5" height="26" fill="#000" opacity="0.3" filter="url(#blur2)"/>
<rect x="385.5" y="2.0" width="37.2" height="86.0" fill="#808080"/>
<rect x="385.5" y="2.0" width="37.2" height="86.0" fill="#262626" opacity="0.5" filter="url(#grain)"/>
<rect x="385.5" y="2.0" width="5.7" height="86.5" fill="#f6f6f6" filter="url(#blur1b)"/>
<rect x="398.5" y="2.0" width="5.2" height="86.5" fill="#f6f6f6" filter="url(#blur1b)"/>
<rect x="413.7" y="2.0" width="9.0" height="86.5" fill="#f6f6f6" filter="url(#blur1b)"/>
<rect x="385.5" y="85.8" width="37.2" height="1" fill="#e8e8e8" opacity="0.8"/>
<rect x="373.8" y="341.5" width="63.6" height="95.3" fill="url(#gripBot)"/>
<rect x="373.8" y="341.5" width="63.6" height="95.3" fill="#0c0c0c" opacity="0.7" filter="url(#grain)"/>
<rect x="375.8" y="353.5" width="59.6" height="7" fill="#1c1c1c" opacity="0.55" filter="url(#blur2)"/>
<rect x="375.8" y="375.5" width="59.6" height="9" fill="#1c1c1c" opacity="0.55" filter="url(#blur2)"/>
<rect x="375.8" y="399.5" width="59.6" height="8" fill="#1c1c1c" opacity="0.55" filter="url(#blur2)"/>
<rect x="375.8" y="419.5" width="59.6" height="8" fill="#1c1c1c" opacity="0.55" filter="url(#blur2)"/>
<rect x="385.2" y="342.5" width="37.9" height="95.3" fill="#8c8c8c" opacity="0.3"/>
<rect x="385.2" y="342.5" width="6.8" height="95.3" fill="#ffffff" filter="url(#blur1)"/>
<rect x="399.5" y="342.5" width="5.0" height="95.3" fill="#ffffff" filter="url(#blur1)"/>
<rect x="414.7" y="342.5" width="8.4" height="95.3" fill="#ffffff" filter="url(#blur1)"/>
<path d="M373.4,89.0 L430.8,89.0 L434.8,96.0 C433.48,120.0 426.88,120.0 426.0,150.0 L426.0,288.0 C427.16,317.0 435.86,317.0 437.6,335.0 L433.6,342.0 L374.5,342.0 L374.5,340.0 C376.38,318.0 385.75,318.0 387.0,288.0 L387.0,149.0 C385.64,119.0 375.44,119.0 373.4,95.0 Z" fill="url(#specG)"/>
<path d="M373.4,89.0 L430.8,89.0 L434.8,96.0 C433.48,120.0 426.88,120.0 426.0,150.0 L426.0,288.0 C427.16,317.0 435.86,317.0 437.6,335.0 L433.6,342.0 L374.5,342.0 L374.5,340.0 C376.38,318.0 385.75,318.0 387.0,288.0 L387.0,149.0 C385.64,119.0 375.44,119.0 373.4,95.0 Z" fill="#3a3a3a" opacity="0.5" filter="url(#speck)"/>
<path d="M430.8,89.0 L434.8,96.0 L434.0,103.0 L430.3,99.0 Z" fill="#8e8e8e"/>
<path d="M433.6,342.0 L437.6,335.0 L436.8,328.0 L433.1,332.0 Z" fill="#8e8e8e"/>
<rect x="459" y="2.0" width="58.0" height="85.5" fill="url(#gripTop)"/>
<rect x="459" y="2.0" width="58.0" height="85.5" fill="#111" opacity="0.55" filter="url(#grain)"/>
<rect x="459" y="2.0" width="13.0" height="85.5" fill="#101010" opacity="0.45"/>
<rect x="508.9" y="22.0" width="8.1" height="65.5" fill="#8a8a8a" opacity="0.25"/>
<rect x="459" y="2.0" width="58.0" height="26" fill="#000" opacity="0.3" filter="url(#blur2)"/>
<rect x="472" y="2.0" width="36.9" height="84.5" fill="#808080"/>
<rect x="472" y="2.0" width="36.9" height="84.5" fill="#262626" opacity="0.5" filter="url(#grain)"/>
<rect x="472" y="2.0" width="5.2" height="85.0" fill="#f6f6f6" filter="url(#blur1b)"/>
<rect x="484.2" y="2.0" width="6.0" height="85.0" fill="#f6f6f6" filter="url(#blur1b)"/>
<rect x="499.7" y="2.0" width="9.2" height="85.0" fill="#f6f6f6" filter="url(#blur1b)"/>
<rect x="472" y="84.3" width="36.9" height="1" fill="#e8e8e8" opacity="0.8"/>
<rect x="460.0" y="340.5" width="62.5" height="96.3" fill="url(#gripBot)"/>
<rect x="460.0" y="340.5" width="62.5" height="96.3" fill="#0c0c0c" opacity="0.7" filter="url(#grain)"/>
<rect x="462.0" y="352.5" width="58.5" height="7" fill="#1c1c1c" opacity="0.55" filter="url(#blur2)"/>
<rect x="462.0" y="374.5" width="58.5" height="9" fill="#1c1c1c" opacity="0.55" filter="url(#blur2)"/>
<rect x="462.0" y="398.5" width="58.5" height="8" fill="#1c1c1c" opacity="0.55" filter="url(#blur2)"/>
<rect x="462.0" y="418.5" width="58.5" height="8" fill="#1c1c1c" opacity="0.55" filter="url(#blur2)"/>
<rect x="471.4" y="341.5" width="37.9" height="96.3" fill="#8c8c8c" opacity="0.3"/>
<rect x="471.4" y="341.5" width="7.5" height="96.3" fill="#ffffff" filter="url(#blur1)"/>
<rect x="485.7" y="341.5" width="5.0" height="96.3" fill="#ffffff" filter="url(#blur1)"/>
<rect x="500.9" y="341.5" width="8.4" height="96.3" fill="#ffffff" filter="url(#blur1)"/>
<path d="M459.4,87.5 L517.4,87.5 L521.4,94.5 C519.93,118.5 512.58,118.5 511.6,148.5 L511.6,287.0 C512.79,316.0 521.72,316.0 523.5,334.0 L519.5,341.0 L460.8,341.0 L460.8,339.0 C462.53,317.0 471.15,317.0 472.3,287.0 L472.3,147.5 C471.01,117.5 461.33,117.5 459.4,93.5 Z" fill="url(#specG)"/>
<path d="M459.4,87.5 L517.4,87.5 L521.4,94.5 C519.93,118.5 512.58,118.5 511.6,148.5 L511.6,287.0 C512.79,316.0 521.72,316.0 523.5,334.0 L519.5,341.0 L460.8,341.0 L460.8,339.0 C462.53,317.0 471.15,317.0 472.3,287.0 L472.3,147.5 C471.01,117.5 461.33,117.5 459.4,93.5 Z" fill="#3a3a3a" opacity="0.5" filter="url(#speck)"/>
<path d="M517.4,87.5 L521.4,94.5 L520.6,101.5 L516.9,97.5 Z" fill="#8e8e8e"/>
<path d="M519.5,341.0 L523.5,334.0 L522.7,327.0 L519.0,331.0 Z" fill="#8e8e8e"/>
<rect x="537.7" y="2.0" width="59.5" height="87.7" fill="url(#gripTop)"/>
<rect x="537.7" y="2.0" width="59.5" height="87.7" fill="#111" opacity="0.55" filter="url(#grain)"/>
<rect x="537.7" y="2.0" width="12.9" height="87.7" fill="#101010" opacity="0.45"/>
<rect x="587" y="22.0" width="10.2" height="67.7" fill="#8a8a8a" opacity="0.25"/>
<rect x="537.7" y="2.0" width="59.5" height="26" fill="#000" opacity="0.3" filter="url(#blur2)"/>
<rect x="550.6" y="2.0" width="36.4" height="86.7" fill="#808080"/>
<rect x="550.6" y="2.0" width="36.4" height="86.7" fill="#262626" opacity="0.5" filter="url(#grain)"/>
<rect x="550.6" y="2.0" width="5.3" height="87.2" fill="#f6f6f6" filter="url(#blur1b)"/>
<rect x="562" y="2.0" width="6.8" height="87.2" fill="#f6f6f6" filter="url(#blur1b)"/>
<rect x="577.9" y="2.0" width="9.1" height="87.2" fill="#f6f6f6" filter="url(#blur1b)"/>
<rect x="550.6" y="86.5" width="36.4" height="1" fill="#e8e8e8" opacity="0.8"/>
<rect x="538.6" y="343.5" width="59.8" height="93.3" fill="url(#gripBot)"/>
<rect x="538.6" y="343.5" width="59.8" height="93.3" fill="#0c0c0c" opacity="0.7" filter="url(#grain)"/>
<rect x="540.6" y="355.5" width="55.8" height="7" fill="#1c1c1c" opacity="0.55" filter="url(#blur2)"/>
<rect x="540.6" y="377.5" width="55.8" height="9" fill="#1c1c1c" opacity="0.55" filter="url(#blur2)"/>
<rect x="540.6" y="401.5" width="55.8" height="8" fill="#1c1c1c" opacity="0.55" filter="url(#blur2)"/>
<rect x="540.6" y="421.5" width="55.8" height="8" fill="#1c1c1c" opacity="0.55" filter="url(#blur2)"/>
<rect x="550" y="344.5" width="37.7" height="93.3" fill="#8c8c8c" opacity="0.3"/>
<rect x="550" y="344.5" width="6.8" height="93.3" fill="#ffffff" filter="url(#blur1)"/>
<rect x="564.3" y="344.5" width="4.5" height="93.3" fill="#ffffff" filter="url(#blur1)"/>
<rect x="579.5" y="344.5" width="8.2" height="93.3" fill="#ffffff" filter="url(#blur1)"/>
<path d="M537.7,89.7 L596.6,89.7 L600.6,96.7 C599.1,120.7 591.6,120.7 590.6,150.7 L590.6,290.0 C591.72,319.0 600.12,319.0 601.8,337.0 L597.8,344.0 L538.6,344.0 L538.6,342.0 C540.37,320.0 549.22,320.0 550.4,290.0 L550.4,149.7 C549.13,119.7 539.61,119.7 537.7,95.7 Z" fill="url(#specG)"/>
<path d="M537.7,89.7 L596.6,89.7 L600.6,96.7 C599.1,120.7 591.6,120.7 590.6,150.7 L590.6,290.0 C591.72,319.0 600.12,319.0 601.8,337.0 L597.8,344.0 L538.6,344.0 L538.6,342.0 C540.37,320.0 549.22,320.0 550.4,290.0 L550.4,149.7 C549.13,119.7 539.61,119.7 537.7,95.7 Z" fill="#3a3a3a" opacity="0.5" filter="url(#speck)"/>
<path d="M596.6,89.7 L600.6,96.7 L599.8000000000001,103.7 L596.1,99.7 Z" fill="#8e8e8e"/>
<path d="M597.8,344.0 L601.8,337.0 L601.0,330.0 L597.3,334.0 Z" fill="#8e8e8e"/>
<rect x="610.8" y="2.0" width="57.9" height="88.8" fill="url(#gripTop)"/>
<rect x="610.8" y="2.0" width="57.9" height="88.8" fill="#111" opacity="0.55" filter="url(#grain)"/>
<rect x="610.8" y="2.0" width="12.5" height="88.8" fill="#101010" opacity="0.45"/>
<rect x="659.6" y="22.0" width="9.1" height="68.8" fill="#8a8a8a" opacity="0.25"/>
<rect x="610.8" y="2.0" width="57.9" height="26" fill="#000" opacity="0.3" filter="url(#blur2)"/>
<rect x="623.3" y="2.0" width="36.3" height="87.8" fill="#808080"/>
<rect x="623.3" y="2.0" width="36.3" height="87.8" fill="#262626" opacity="0.5" filter="url(#grain)"/>
<rect x="623.3" y="2.0" width="5.2" height="88.3" fill="#f6f6f6" filter="url(#blur1b)"/>
<rect x="635.3" y="2.0" width="6.1" height="88.3" fill="#f6f6f6" filter="url(#blur1b)"/>
<rect x="650.5" y="2.0" width="9.1" height="88.3" fill="#f6f6f6" filter="url(#blur1b)"/>
<rect x="623.3" y="87.6" width="36.3" height="1" fill="#e8e8e8" opacity="0.8"/>
<rect x="612" y="341.0" width="59.0" height="95.8" fill="url(#gripBot)"/>
<rect x="612" y="341.0" width="59.0" height="95.8" fill="#0c0c0c" opacity="0.7" filter="url(#grain)"/>
<rect x="614" y="353.0" width="55.0" height="7" fill="#1c1c1c" opacity="0.55" filter="url(#blur2)"/>
<rect x="614" y="375.0" width="55.0" height="9" fill="#1c1c1c" opacity="0.55" filter="url(#blur2)"/>
<rect x="614" y="399.0" width="55.0" height="8" fill="#1c1c1c" opacity="0.55" filter="url(#blur2)"/>
<rect x="614" y="419.0" width="55.0" height="8" fill="#1c1c1c" opacity="0.55" filter="url(#blur2)"/>
<rect x="622.7" y="342.0" width="37.7" height="95.8" fill="#8c8c8c" opacity="0.3"/>
<rect x="622.7" y="342.0" width="7.5" height="95.8" fill="#ffffff" filter="url(#blur1)"/>
<rect x="637.5" y="342.0" width="4.0" height="95.8" fill="#ffffff" filter="url(#blur1)"/>
<rect x="652.2" y="342.0" width="8.2" height="95.8" fill="#ffffff" filter="url(#blur1)"/>
<path d="M610.8,90.8 L668.5,90.8 L672.5,97.8 C671.08,121.8 663.95,121.8 663.0,151.8 L663.0,287.5 C664.2,316.5 673.2,316.5 675,334.5 L671,341.5 L612,341.5 L612,339.5 C613.59,317.5 621.54,317.5 622.6,287.5 L622.6,150.8 C621.42,120.8 612.57,120.8 610.8,96.8 Z" fill="url(#specG)"/>
<path d="M610.8,90.8 L668.5,90.8 L672.5,97.8 C671.08,121.8 663.95,121.8 663.0,151.8 L663.0,287.5 C664.2,316.5 673.2,316.5 675,334.5 L671,341.5 L612,341.5 L612,339.5 C613.59,317.5 621.54,317.5 622.6,287.5 L622.6,150.8 C621.42,120.8 612.57,120.8 610.8,96.8 Z" fill="#3a3a3a" opacity="0.5" filter="url(#speck)"/>
<path d="M668.5,90.8 L672.5,97.8 L671.7,104.8 L668.0,100.8 Z" fill="#8e8e8e"/>
<path d="M671,341.5 L675,334.5 L674.2,327.5 L670.5,331.5 Z" fill="#8e8e8e"/>
<clipPath id="ov0"><rect x="389.3" y="148.9" width="33.5" height="135.9"/></clipPath>
<clipPath id="ov1"><rect x="475.3" y="147.4" width="33.3" height="137.0"/></clipPath>
<clipPath id="ov2"><rect x="554" y="149.9" width="32.8" height="136.7"/></clipPath>
<clipPath id="ov3"><rect x="626.4" y="151.0" width="33.2" height="133.6"/></clipPath>
<g clip-path="url(#ov0)"><rect x="389.3" y="148.9" width="33.5" height="135.9" fill="#6edc86"/>
<rect x="389.3" y="148.9" width="33.5" height="135.9" fill="#1c5c2c" opacity="0.27" filter="url(#speck)"/></g>
<g clip-path="url(#ov1)">
<rect x="475.3" y="147.4" width="33.3" height="137.0" fill="#72dc7c"/>
<g filter="url(#blur1)">
<path d="M475.3,188.5 C485.3,187.5 497.3,187.5 508.6,185 L508.6,290 L475.3,290 Z" fill="#b4e070"/>
<path d="M475.3,198.5 C487.3,196.5 497.3,198 508.6,196 L508.6,290 L475.3,290 Z" fill="#e6e272"/>
<path d="M475.3,208.5 C487.3,206 497.3,210 508.6,207 L508.6,290 L475.3,290 Z" fill="#f2b070"/>
<path d="M475.3,218.5 C485.3,217 499.3,221 508.6,218.5 L508.6,290 L475.3,290 Z" fill="#f07a80"/>
<path d="M475.3,268.5 C485.3,271.5 497.3,273 508.6,271 L508.6,290 L475.3,290 Z" fill="#f2a870"/>
<path d="M475.3,276.5 C485.3,279 497.3,280 508.6,278 L508.6,290 L475.3,290 Z" fill="#e8e06c"/>
</g>
<rect x="475.3" y="147.4" width="33.3" height="137.0" fill="#502020" opacity="0.27" filter="url(#speck)"/></g>
<g clip-path="url(#ov2)">
<rect x="554" y="149.9" width="32.8" height="136.7" fill="#66dcb8"/>
<g filter="url(#blur1)">
<path d="M554,216 C562,211 570,216 578,214.5 C582,214 584,218 586.8,217 L586.8,290 L554,290 Z" fill="#70da96"/>
<path d="M554,236.5 C564,234 576,238 586.8,235 L586.8,290 L554,290 Z" fill="#86dc74"/>
<path d="M554,265 C564,268 576,270 586.8,263 L586.8,290 L554,290 Z" fill="#70da98"/>
<path d="M554,277 C564,279 576,281 586.8,276.5 L586.8,290 L554,290 Z" fill="#62d4c6"/>
</g>
<rect x="554" y="149.9" width="32.8" height="136.7" fill="#1c4c4c" opacity="0.27" filter="url(#speck)"/></g>
<g clip-path="url(#ov3)">
<rect x="626.4" y="151.0" width="33.2" height="133.6" fill="#7a74e2"/>
<g filter="url(#blur1)">
<path d="M626.4,166 C632.4,160 638.4,165 646.4,160 C652.4,156 656.4,154 659.6,153.5 L659.6,191 C652.4,190 644.4,192 636.4,197 C631.4,199 628.4,199 626.4,200 Z" fill="#de74e6"/>
<path d="M626.4,200 C631.4,199 636.4,197 644.4,192 C652.4,190 656.4,191 659.6,191 L659.6,203 C652.4,199 644.4,200 636.4,206 C631.4,210 628.4,212 626.4,213 Z" fill="#a676e2"/>
<path d="M626.4,213 C631.4,210 636.4,206 644.4,200 C652.4,199 656.4,203 659.6,203 L659.6,290 L626.4,290 Z" fill="#6c7ce4"/>
<path d="M659.6,228 C653.6,226 650.6,232 647.6,236 C643.6,240 648.6,246 644.6,252 C641.6,258 647.6,262 643.6,268 C639.6,274 633.6,272 629.6,276 L626.4,279 L626.4,290 L659.6,290 Z" fill="#72a2ea"/>
<path d="M626.4,258 C632.4,262 636.4,260 640.4,268 C642.4,274 636.4,278 630.4,279 L626.4,279 Z" fill="#7a74e2"/>
</g>
<rect x="626.4" y="151.0" width="33.2" height="133.6" fill="#201c60" opacity="0.27" filter="url(#speck)"/></g>
<text x="406.2" y="129.3" font-size="20.5" text-anchor="middle" fill="#fcfcfc" letter-spacing="0.6" stroke="#fcfcfc" stroke-width="0.45">top</text>
<text x="404.2" y="315" font-size="21.5" text-anchor="middle" fill="#fcfcfc" letter-spacing="0.5" stroke="#fcfcfc" stroke-width="0.45">bottom</text>
<rect x="381.5" y="2.2" width="35.7" height="38.8" fill="#e4e4e4" stroke="#2a2a2a" stroke-width="1"/>
<rect x="385.5" y="2.8" width="5.7" height="37.6" fill="#f6f6f6" filter="url(#blur1)"/>
<rect x="398.5" y="2.8" width="5.2" height="37.6" fill="#f6f6f6" filter="url(#blur1)"/>
<rect x="413.7" y="2.8" width="3.0" height="37.6" fill="#f6f6f6" filter="url(#blur1)"/>
<text x="398.9" y="28.3" font-size="20" text-anchor="middle" fill="#111" >b</text>
<rect x="471.5" y="2.2" width="35.4" height="38.8" fill="#e4e4e4" stroke="#2a2a2a" stroke-width="1"/>
<rect x="472" y="2.8" width="5.2" height="37.6" fill="#f6f6f6" filter="url(#blur1)"/>
<rect x="484.2" y="2.8" width="6.0" height="37.6" fill="#f6f6f6" filter="url(#blur1)"/>
<rect x="499.7" y="2.8" width="6.7" height="37.6" fill="#f6f6f6" filter="url(#blur1)"/>
<text x="488.7" y="28.3" font-size="20" text-anchor="middle" fill="#111" >c</text>
<rect x="550.6" y="2.2" width="35.8" height="38.8" fill="#e4e4e4" stroke="#2a2a2a" stroke-width="1"/>
<rect x="551.1" y="2.8" width="4.8" height="37.6" fill="#f6f6f6" filter="url(#blur1)"/>
<rect x="562" y="2.8" width="6.8" height="37.6" fill="#f6f6f6" filter="url(#blur1)"/>
<rect x="577.9" y="2.8" width="8.0" height="37.6" fill="#f6f6f6" filter="url(#blur1)"/>
<text x="568.0" y="28.3" font-size="20" text-anchor="middle" fill="#111" >d</text>
<rect x="624.2" y="2.2" width="36.2" height="38.8" fill="#e4e4e4" stroke="#2a2a2a" stroke-width="1"/>
<rect x="624.7" y="2.8" width="3.8" height="37.6" fill="#f6f6f6" filter="url(#blur1)"/>
<rect x="635.3" y="2.8" width="6.1" height="37.6" fill="#f6f6f6" filter="url(#blur1)"/>
<rect x="650.5" y="2.8" width="9.1" height="37.6" fill="#f6f6f6" filter="url(#blur1)"/>
<text x="641.8" y="28.3" font-size="20" text-anchor="middle" fill="#111" >e</text>
<rect x="382.3" y="398.9" width="48.6" height="33.2" fill="#fdfdfd"/>
<rect x="386.1" y="419.2" width="40" height="9.1" fill="#050505"/>
<text x="407.0" y="414.4" font-size="16.4" text-anchor="middle" fill="#111" >7 mm</text>
</g>
<g id="cbar">
<rect x="702.7" y="54.40" width="12.5" height="23.00" fill="#ff0000" stroke="#222" stroke-width="0.7"/>
<rect x="702.7" y="77.40" width="12.5" height="23.00" fill="#ff5a00" stroke="#222" stroke-width="0.7"/>
<rect x="702.7" y="100.40" width="12.5" height="23.00" fill="#ffa000" stroke="#222" stroke-width="0.7"/>
<rect x="702.7" y="123.40" width="12.5" height="23.00" fill="#ffee00" stroke="#222" stroke-width="0.7"/>
<rect x="702.7" y="146.40" width="12.5" height="23.00" fill="#c8f000" stroke="#222" stroke-width="0.7"/>
<rect x="702.7" y="169.40" width="12.5" height="23.00" fill="#80ee00" stroke="#222" stroke-width="0.7"/>
<rect x="702.7" y="192.40" width="12.5" height="23.00" fill="#30ee00" stroke="#222" stroke-width="0.7"/>
<rect x="702.7" y="215.40" width="12.5" height="23.00" fill="#00ee30" stroke="#222" stroke-width="0.7"/>
<rect x="702.7" y="238.40" width="12.5" height="23.00" fill="#00ee88" stroke="#222" stroke-width="0.7"/>
<rect x="702.7" y="261.40" width="12.5" height="23.00" fill="#00f0d8" stroke="#222" stroke-width="0.7"/>
<rect x="702.7" y="284.40" width="12.5" height="23.00" fill="#00c8f8" stroke="#222" stroke-width="0.7"/>
<rect x="702.7" y="307.40" width="12.5" height="23.00" fill="#0088ff" stroke="#222" stroke-width="0.7"/>
<rect x="702.7" y="330.40" width="12.5" height="23.00" fill="#0030f0" stroke="#222" stroke-width="0.7"/>
<rect x="702.7" y="353.40" width="12.5" height="23.00" fill="#3a00f0" stroke="#222" stroke-width="0.7"/>
<rect x="702.7" y="376.40" width="12.5" height="23.00" fill="#8c00f8" stroke="#222" stroke-width="0.7"/>
<rect x="702.7" y="399.40" width="12.5" height="23.00" fill="#f000f8" stroke="#222" stroke-width="0.7"/>
<line x1="715.2" y1="54.40" x2="717.8000000000001" y2="54.40" stroke="#222" stroke-width="0.8"/>
<line x1="715.2" y1="77.40" x2="717.8000000000001" y2="77.40" stroke="#222" stroke-width="0.8"/>
<line x1="715.2" y1="100.40" x2="717.8000000000001" y2="100.40" stroke="#222" stroke-width="0.8"/>
<line x1="715.2" y1="123.40" x2="717.8000000000001" y2="123.40" stroke="#222" stroke-width="0.8"/>
<line x1="715.2" y1="146.40" x2="717.8000000000001" y2="146.40" stroke="#222" stroke-width="0.8"/>
<line x1="715.2" y1="169.40" x2="717.8000000000001" y2="169.40" stroke="#222" stroke-width="0.8"/>
<line x1="715.2" y1="192.40" x2="717.8000000000001" y2="192.40" stroke="#222" stroke-width="0.8"/>
<line x1="715.2" y1="215.40" x2="717.8000000000001" y2="215.40" stroke="#222" stroke-width="0.8"/>
<line x1="715.2" y1="238.40" x2="717.8000000000001" y2="238.40" stroke="#222" stroke-width="0.8"/>
<line x1="715.2" y1="261.40" x2="717.8000000000001" y2="261.40" stroke="#222" stroke-width="0.8"/>
<line x1="715.2" y1="284.40" x2="717.8000000000001" y2="284.40" stroke="#222" stroke-width="0.8"/>
<line x1="715.2" y1="307.40" x2="717.8000000000001" y2="307.40" stroke="#222" stroke-width="0.8"/>
<line x1="715.2" y1="330.40" x2="717.8000000000001" y2="330.40" stroke="#222" stroke-width="0.8"/>
<line x1="715.2" y1="353.40" x2="717.8000000000001" y2="353.40" stroke="#222" stroke-width="0.8"/>
<line x1="715.2" y1="376.40" x2="717.8000000000001" y2="376.40" stroke="#222" stroke-width="0.8"/>
<line x1="715.2" y1="399.40" x2="717.8000000000001" y2="399.40" stroke="#222" stroke-width="0.8"/>
<line x1="715.2" y1="422.40" x2="717.8000000000001" y2="422.40" stroke="#222" stroke-width="0.8"/>
<text x="720.6" y="59.9" font-size="11" text-anchor="start" fill="#111" >2</text>
<text x="720.6" y="82.9" font-size="11" text-anchor="start" fill="#111" >1.75</text>
<text x="720.6" y="105.9" font-size="11" text-anchor="start" fill="#111" >1.5</text>
<text x="720.6" y="128.9" font-size="11" text-anchor="start" fill="#111" >1.25</text>
<text x="720.6" y="151.9" font-size="11" text-anchor="start" fill="#111" >1</text>
<text x="720.6" y="174.9" font-size="11" text-anchor="start" fill="#111" >0.75</text>
<text x="720.6" y="197.9" font-size="11" text-anchor="start" fill="#111" >0.5</text>
<text x="720.6" y="220.9" font-size="11" text-anchor="start" fill="#111" >0.25</text>
<text x="720.6" y="243.9" font-size="11" text-anchor="start" fill="#111" >0</text>
<text x="720.6" y="266.9" font-size="11" text-anchor="start" fill="#111" >-0.25</text>
<text x="720.6" y="289.9" font-size="11" text-anchor="start" fill="#111" >-0.5</text>
<text x="720.6" y="312.9" font-size="11" text-anchor="start" fill="#111" >-0.75</text>
<text x="720.6" y="335.9" font-size="11" text-anchor="start" fill="#111" >-1</text>
<text x="720.6" y="358.9" font-size="11" text-anchor="start" fill="#111" >-1.25</text>
<text x="720.6" y="381.9" font-size="11" text-anchor="start" fill="#111" >-1.5</text>
<text x="720.6" y="404.9" font-size="11" text-anchor="start" fill="#111" >-1.75</text>
<text x="720.6" y="427.9" font-size="11" text-anchor="start" fill="#111" >-2</text>
<text x="697.4" y="18.2" font-family="Liberation Serif, serif" font-style="italic" font-size="23.5" fill="#111">ε</text>
<text x="706.9" y="21.7" font-family="Liberation Serif, serif" font-style="italic" font-size="16" fill="#111" letter-spacing="1.3">yy</text>
<text x="695.6" y="44.2" font-size="17.3" text-anchor="start" fill="#111" >x10</text>
<text x="724.5" y="38.2" font-size="11" text-anchor="start" fill="#111" >-2</text>
</g>
<defs>
<clipPath id="fclip"><rect x="107" y="509.8" width="223.6" height="138.0"/></clipPath>
<clipPath id="gclip"><rect x="415.6" y="511.4" width="227.6" height="136.2"/></clipPath>
<filter id="speck2" x="0" y="0" width="100%" height="100%">
<feTurbulence type="fractalNoise" baseFrequency="0.55" numOctaves="2" seed="11" result="n"/>
<feColorMatrix in="n" type="matrix" values="0 0 0 0 0  0 0 0 0 0  0 0 0 0 0  7 0 0 0 -4.6" result="a"/>
<feComposite in="a" in2="SourceGraphic" operator="in"/>
</filter>
</defs>
<g id="panelF">
<rect x="66.1" y="459" width="35.6" height="38.4" fill="#fff" stroke="#333" stroke-width="1"/>
<text x="81.3" y="484.7" font-size="21" text-anchor="middle" fill="#111" >f</text>
<text x="128.6" y="486.3" font-size="19.0" letter-spacing="0.62" fill="#111">1<tspan dy="-6.8" font-size="11.8">st</tspan><tspan dy="6.8">, 2</tspan><tspan dy="-6.8" font-size="11.8">nd</tspan><tspan dy="6.8">, and 10</tspan><tspan dy="-6.8" font-size="11.8">th</tspan><tspan dy="6.8"> cycle</tspan></text>
<g clip-path="url(#fclip)">
<rect x="107" y="509.8" width="223.6" height="138.0" fill="#0c0c0c"/>
<rect x="107" y="613.4" width="223.6" height="0.8" fill="#1e1e1e"/>
<rect x="130.6" y="509.8" width="37.6" height="138.0" fill="#8a8a8a"/><clipPath id="sf1"><rect x="132.4" y="509.8" width="34.0" height="138.0"/></clipPath><g clip-path="url(#sf1)"><rect x="130.6" y="509.8" width="37.6" height="138.0" fill="#74e07e"/><g filter="url(#blur1)"><path d="M129.6,549.0 C141.9,547.0 156.9,552.5 169.2,550.5 L169.2,650 L129.6,650 Z" fill="#b4e272"/><path d="M129.6,556 C141.9,558 156.9,556.5 169.2,558.5 L169.2,650 L129.6,650 Z" fill="#e2e478"/><path d="M129.6,567 C141.9,565 156.9,572 169.2,570 L169.2,650 L129.6,650 Z" fill="#ecc67c"/><path d="M129.6,573.5 C141.9,575.5 156.9,574.5 169.2,576.5 L169.2,650 L129.6,650 Z" fill="#f0a482"/><path d="M129.6,580.5 C141.9,578.5 156.9,586 169.2,584 L169.2,650 L129.6,650 Z" fill="#f07e86"/><path d="M129.6,633 C141.9,631 156.9,638 169.2,636 L169.2,650 L129.6,650 Z" fill="#f0a87e"/><path d="M129.6,638.5 C141.9,639.5 156.9,640 169.2,641 L169.2,650 L129.6,650 Z" fill="#e6e278"/></g><rect x="130.6" y="509.8" width="37.6" height="138.0" fill="#3a2a10" opacity="0.3" filter="url(#speck2)"/></g>
<rect x="200.5" y="509.8" width="37.8" height="138.0" fill="#8a8a8a"/><clipPath id="sf2"><rect x="202.3" y="509.8" width="34.2" height="138.0"/></clipPath><g clip-path="url(#sf2)"><rect x="200.5" y="509.8" width="37.8" height="138.0" fill="#8ce474"/><g filter="url(#blur1)"><path d="M200.5,519 C208.5,517 218.5,520 224.5,524 C230.5,528 232.3,534 233.3,540 C234.3,546 238.3,548 239.3,550 L239.3,562 L199.5,562 L199.5,519 Z" fill="#cae874"/><path d="M199.5,561.5 C211.8,558.5 227.0,561 239.3,558 L239.3,650 L199.5,650 Z" fill="#e4e678"/><path d="M199.5,576 C211.8,579 227.0,570 239.3,573 L239.3,650 L199.5,650 Z" fill="#ecc47c"/><path d="M199.5,593 C211.8,591 227.0,592 239.3,590 L239.3,650 L199.5,650 Z" fill="#f0a27c"/><path d="M199.5,620 C211.8,617 227.0,627 239.3,624 L239.3,650 L199.5,650 Z" fill="#ecc47c"/><path d="M199.5,629 C211.8,626 227.0,637 239.3,634 L239.3,650 L199.5,650 Z" fill="#e2e476"/><path d="M199.5,640 C211.8,642 227.0,642 239.3,644 L239.3,650 L199.5,650 Z" fill="#b0e474"/></g><rect x="200.5" y="509.8" width="37.8" height="138.0" fill="#3a2a10" opacity="0.3" filter="url(#speck2)"/></g>
<rect x="273.4" y="509.8" width="37.8" height="138.0" fill="#8a8a8a"/><clipPath id="sf3"><rect x="275.2" y="509.8" width="34.2" height="138.0"/></clipPath><g clip-path="url(#sf3)"><rect x="273.4" y="509.8" width="37.8" height="138.0" fill="#92e87a"/><g filter="url(#blur1)"><path d="M272.4,558 C284.7,555 299.9,563 312.2,560 L312.2,650 L272.4,650 Z" fill="#c6e878"/><path d="M272.4,571 C284.7,566 299.9,579 312.2,574 L312.2,650 L272.4,650 Z" fill="#e2e678"/><path d="M272.4,594 C284.7,599 299.9,584 312.2,589 L312.2,650 L272.4,650 Z" fill="#ecc682"/><path d="M272.4,619 C284.7,616 299.9,624 312.2,621 L312.2,650 L272.4,650 Z" fill="#e2e678"/><path d="M272.4,636 C284.7,638 299.9,637 312.2,639 L312.2,650 L272.4,650 Z" fill="#a8e878"/></g><rect x="273.4" y="509.8" width="37.8" height="138.0" fill="#3a2a10" opacity="0.3" filter="url(#speck2)"/></g>
</g>
<text x="133.6" y="668.7" font-size="16.8" text-anchor="middle" fill="#111" >7 mm</text>
<rect x="113.1" y="673.4" width="39.6" height="8.6" fill="#050505"/>
</g>
<g id="panelG">
<rect x="374.4" y="460.3" width="36.3" height="39.3" fill="#fff" stroke="#333" stroke-width="1"/>
<text x="392.3" y="486.5" font-size="21" text-anchor="middle" fill="#111" >g</text>
<text x="438.3" y="489.3" font-size="19.0" letter-spacing="0.62" fill="#111">1<tspan dy="-6.8" font-size="11.8">st</tspan><tspan dy="6.8">, 2</tspan><tspan dy="-6.8" font-size="11.8">nd</tspan><tspan dy="6.8">, and 10</tspan><tspan dy="-6.8" font-size="11.8">th</tspan><tspan dy="6.8"> cycle</tspan></text>
<g clip-path="url(#gclip)">
<rect x="415.6" y="511.4" width="227.6" height="136.2" fill="#0c0c0c"/>
<rect x="415.6" y="613.6" width="227.6" height="0.8" fill="#1e1e1e"/>
<rect x="446.2" y="511.4" width="38.2" height="136.2" fill="#8a8a8a"/><clipPath id="sg1"><rect x="448.0" y="511.4" width="34.6" height="136.2"/></clipPath><g clip-path="url(#sg1)"><rect x="446.2" y="511.4" width="38.2" height="136.2" fill="#7486e6"/><rect x="446.2" y="511.4" width="38.2" height="22" fill="#8a7ae2"/><g filter="url(#blur1)"><path d="M446.2,530 C456.2,528 462.2,522 468.2,516 C474.2,512 480.4,513 484.4,514 L484.4,553 C474.4,552 464.4,556 454.2,565 L446.2,570 Z" fill="#de76e6"/><path d="M446.2,570 L454.2,565 C464.4,556 474.4,552 484.4,553 L484.4,571 C472.4,568 460.4,573 446.2,580 Z" fill="#9478e2"/><path d="M484.4,585 C476.4,586 471.4,591 466.4,596 C459.4,601 462.4,609 466.4,614 C470.4,620 464.4,626 470.4,630 L484.4,632 Z" fill="#7cb4f0"/><path d="M446.2,634 C454.2,632 458.2,639 464.2,636 C470.2,632 478.4,630 484.4,628 L484.4,650 L446.2,650 Z" fill="#7ab2ee"/></g><rect x="446.2" y="511.4" width="38.2" height="136.2" fill="#1c1460" opacity="0.3" filter="url(#speck2)"/></g>
<rect x="517.0" y="511.4" width="36.8" height="136.2" fill="#8a8a8a"/><clipPath id="sg2"><rect x="518.8" y="511.4" width="33.2" height="136.2"/></clipPath><g clip-path="url(#sg2)"><rect x="517.0" y="511.4" width="36.8" height="136.2" fill="#788ae8"/><g filter="url(#blur1)"><path d="M517.0,511.4 L553.8,511.4 L553.8,524 C543.8,528 527.0,530 517.0,534 Z" fill="#8680e4"/><path d="M517.0,534 C527.0,530 543.8,528 553.8,524 L553.8,560 C545.8,562 539.8,566 529.0,568 C523.0,566 520.0,560 517.0,556 Z" fill="#b47ae4"/><path d="M553.8,588 C545.8,588 538.8,593 531.8,599 C524.8,605 526.8,614 530.8,621 C535.8,628 529.8,634 537.8,637 L553.8,638 Z" fill="#7cb6f0"/><path d="M517.0,640 C527.0,638 543.8,642 553.8,636 L553.8,650 L517.0,650 Z" fill="#78aeee"/></g><rect x="517.0" y="511.4" width="36.8" height="136.2" fill="#1c1460" opacity="0.3" filter="url(#speck2)"/></g>
<rect x="583.8" y="511.4" width="38.0" height="136.2" fill="#8a8a8a"/><clipPath id="sg3"><rect x="585.5999999999999" y="511.4" width="34.4" height="136.2"/></clipPath><g clip-path="url(#sg3)"><rect x="583.8" y="511.4" width="38.0" height="136.2" fill="#7284e8"/><g filter="url(#blur1)"><path d="M583.8,511.4 L621.8,511.4 L621.8,557 C611.8,560 595.8,566 583.8,571 Z" fill="#a47ce4"/><path d="M583.8,531 C591.8,533 601.8,530 609.8,531 C613.8,526 617.8,521 621.8,519 L621.8,541 C611.8,542 597.8,548 583.8,553 Z" fill="#e07ee6"/><path d="M583.8,617 C593.8,612 609.8,616 621.8,622 L621.8,640 C611.8,644 595.8,648 583.8,650 Z" fill="#9a7ae4"/></g><rect x="583.8" y="511.4" width="38.0" height="136.2" fill="#1c1460" opacity="0.3" filter="url(#speck2)"/></g>
</g>
<text x="670.4" y="513" font-family="Liberation Serif, serif" font-style="italic" font-size="22.5" fill="#111">ε</text>
<text x="679.7" y="516.7" font-family="Liberation Serif, serif" font-style="italic" font-size="16" fill="#111" letter-spacing="1.3">yy</text>
<text x="668.6" y="541.4" font-size="17" text-anchor="start" fill="#111" >x10</text>
<text x="697.3" y="535.6" font-size="10.8" text-anchor="start" fill="#111" >-2</text>
<rect x="681.2" y="551.70" width="8.8" height="5.88" fill="#ff0000" stroke="#333" stroke-width="0.5"/>
<rect x="681.2" y="557.58" width="8.8" height="5.88" fill="#ff5a00" stroke="#333" stroke-width="0.5"/>
<rect x="681.2" y="563.45" width="8.8" height="5.88" fill="#ffa000" stroke="#333" stroke-width="0.5"/>
<rect x="681.2" y="569.33" width="8.8" height="5.88" fill="#ffee00" stroke="#333" stroke-width="0.5"/>
<rect x="681.2" y="575.20" width="8.8" height="5.88" fill="#c8f000" stroke="#333" stroke-width="0.5"/>
<rect x="681.2" y="581.08" width="8.8" height="5.88" fill="#80ee00" stroke="#333" stroke-width="0.5"/>
<rect x="681.2" y="586.95" width="8.8" height="5.88" fill="#30ee00" stroke="#333" stroke-width="0.5"/>
<rect x="681.2" y="592.83" width="8.8" height="5.88" fill="#00ee30" stroke="#333" stroke-width="0.5"/>
<rect x="681.2" y="598.70" width="8.8" height="5.88" fill="#00ee88" stroke="#333" stroke-width="0.5"/>
<rect x="681.2" y="604.58" width="8.8" height="5.88" fill="#00f0d8" stroke="#333" stroke-width="0.5"/>
<rect x="681.2" y="610.45" width="8.8" height="5.88" fill="#00c8f8" stroke="#333" stroke-width="0.5"/>
<rect x="681.2" y="616.33" width="8.8" height="5.88" fill="#0088ff" stroke="#333" stroke-width="0.5"/>
<rect x="681.2" y="622.20" width="8.8" height="5.88" fill="#0030f0" stroke="#333" stroke-width="0.5"/>
<rect x="681.2" y="628.08" width="8.8" height="5.88" fill="#3a00f0" stroke="#333" stroke-width="0.5"/>
<rect x="681.2" y="633.95" width="8.8" height="5.88" fill="#8c00f8" stroke="#333" stroke-width="0.5"/>
<rect x="681.2" y="639.83" width="8.8" height="5.88" fill="#f000f8" stroke="#333" stroke-width="0.5"/>
<text x="697.6" y="556.9" font-size="12.4" text-anchor="start" fill="#111" >2</text>
<text x="697.6" y="601.0" font-size="12.4" text-anchor="start" fill="#111" >0</text>
<text x="693.8" y="648.8" font-size="12.4" text-anchor="start" fill="#111" >-2</text>
</g>
<g id="panelH">
<rect x="65.5" y="698.2" width="36" height="39.2" fill="#fff" stroke="#333" stroke-width="1"/>
<text x="83.3" y="725.2" font-size="20.5" text-anchor="middle" fill="#111" >h</text>
<line x1="164" y1="710.4" x2="164" y2="877.6" stroke="#151515" stroke-width="1.4"/><line x1="163.5" y1="877.6" x2="326.5" y2="877.6" stroke="#151515" stroke-width="1.4"/><line x1="158.5" y1="710.9" x2="164" y2="710.9" stroke="#151515" stroke-width="1.4"/><line x1="161" y1="731.7" x2="164" y2="731.7" stroke="#151515" stroke-width="1.4"/><line x1="159.8" y1="752.6" x2="164" y2="752.6" stroke="#151515" stroke-width="1.4"/><line x1="161" y1="773.4" x2="164" y2="773.4" stroke="#151515" stroke-width="1.4"/><line x1="158.5" y1="794.2" x2="164" y2="794.2" stroke="#151515" stroke-width="1.4"/><line x1="161" y1="815.1" x2="164" y2="815.1" stroke="#151515" stroke-width="1.4"/><line x1="159.8" y1="835.9" x2="164" y2="835.9" stroke="#151515" stroke-width="1.4"/><line x1="161" y1="856.8" x2="164" y2="856.8" stroke="#151515" stroke-width="1.4"/><line x1="158.5" y1="877.6" x2="164" y2="877.6" stroke="#151515" stroke-width="1.4"/><line x1="164" y1="877.6" x2="164" y2="882.6" stroke="#151515" stroke-width="1.4"/><text x="164" y="893.1" font-size="11.9" text-anchor="middle" fill="#111" >0.0</text><line x1="200.8" y1="877.6" x2="200.8" y2="882.6" stroke="#151515" stroke-width="1.4"/><text x="200.8" y="893.1" font-size="11.9" text-anchor="middle" fill="#111" >0.5</text><line x1="237.6" y1="877.6" x2="237.6" y2="882.6" stroke="#151515" stroke-width="1.4"/><text x="237.6" y="893.1" font-size="11.9" text-anchor="middle" fill="#111" >1.0</text><line x1="274.4" y1="877.6" x2="274.4" y2="882.6" stroke="#151515" stroke-width="1.4"/><text x="274.4" y="893.1" font-size="11.9" text-anchor="middle" fill="#111" >1.5</text><line x1="182.4" y1="877.6" x2="182.4" y2="880.6" stroke="#151515" stroke-width="1.4"/><line x1="219.2" y1="877.6" x2="219.2" y2="880.6" stroke="#151515" stroke-width="1.4"/><line x1="256.0" y1="877.6" x2="256.0" y2="880.6" stroke="#151515" stroke-width="1.4"/><line x1="292.8" y1="877.6" x2="292.8" y2="880.6" stroke="#151515" stroke-width="1.4"/>
<line x1="311.2" y1="877.6" x2="311.2" y2="882.6" stroke="#151515" stroke-width="1.4"/>
<text x="303.2" y="893.1" font-size="11.9" text-anchor="start" fill="#111" >2.0x10</text>
<text x="339.5" y="887.5" font-size="9" text-anchor="start" fill="#111" >-2</text>
<text x="144.8" y="715.3" font-size="13.6" text-anchor="end" fill="#111" >top</text>
<text x="155.9" y="800.0" font-size="13.8" text-anchor="end" fill="#111" >middle</text>
<text x="158.0" y="883.3" font-size="14" text-anchor="end" fill="#111" >bottom</text>
<text x="217.5" y="913.5" font-size="13.6" fill="#111">Strain ε<tspan dy="3.5" font-size="9.5">yy</tspan></text>
<path d="M183.7,710.9 C183.6,711.6 182.7,713.6 183.0,715.2 C183.3,716.8 184.7,718.4 185.5,720.3 C186.3,722.2 187.7,724.7 188.0,726.6 C188.3,728.5 188.0,729.8 187.3,731.7 C186.6,733.6 184.3,736.1 183.7,738.0 C183.1,739.9 183.3,741.1 183.7,743.0 C184.1,744.9 185.8,747.0 186.3,749.5 C186.8,752.0 186.5,755.1 186.8,758.3 C187.1,761.5 187.8,765.8 188.0,768.5 C188.2,771.2 187.3,773.1 188.0,774.8 C188.7,776.5 189.8,777.3 191.9,778.6 C194.0,779.9 197.5,780.9 200.7,782.4 C203.9,783.9 207.9,785.8 210.9,787.5 C213.9,789.2 215.6,790.9 218.5,792.6 C221.4,794.3 225.2,796.0 228.6,797.7 C232.0,799.4 235.0,800.8 238.8,802.7 C242.6,804.6 247.3,807.2 251.5,809.1 C255.7,811.0 260.0,812.7 264.2,814.2 C268.4,815.7 272.6,816.5 276.8,818.0 C281.0,819.5 285.3,821.1 289.5,823.0 C293.7,824.9 298.8,827.1 302.2,829.4 C305.6,831.7 307.7,835.0 309.8,837.0 C311.9,839.0 314.7,840.3 314.9,841.6 C315.1,842.9 313.2,843.2 311.1,844.6 C309.0,846.0 304.5,848.0 302.2,849.7 C299.9,851.4 299.2,853.0 297.1,854.7 C295.0,856.4 292.9,858.1 289.5,859.8 C286.1,861.5 281.9,863.2 276.8,864.9 C271.7,866.6 264.2,868.5 259.1,870.0 C254.0,871.5 250.0,872.5 246.4,873.8 C242.8,875.1 239.0,877.0 237.5,877.6" fill="none" stroke="#1a1a1a" stroke-width="1.5" stroke-linejoin="round" stroke-linecap="round" />
<path d="M203.3,710.9 C204.4,711.4 207.3,712.6 209.6,714.0 C211.9,715.4 215.1,717.1 217.2,719.0 C219.3,720.9 220.8,723.7 222.3,725.4 C223.8,727.1 225.6,727.7 226.1,729.2 C226.6,730.7 225.9,732.1 225.3,734.2 C224.8,736.3 223.1,739.1 222.8,741.9 C222.5,744.6 223.1,748.0 223.6,750.7 C224.1,753.4 224.4,756.0 226.1,758.3 C227.8,760.6 231.6,762.2 233.7,764.7 C235.8,767.2 236.7,770.9 238.8,773.6 C240.9,776.4 243.9,779.3 246.4,781.2 C248.9,783.1 252.1,783.3 254.0,785.0 C255.9,786.7 256.3,789.2 257.8,791.3 C259.3,793.4 261.4,795.6 262.9,797.7 C264.4,799.8 264.8,801.9 266.7,804.0 C268.6,806.1 272.6,808.3 274.3,810.4 C276.0,812.5 276.2,814.4 276.8,816.7 C277.4,819.0 277.0,822.0 278.1,824.3 C279.2,826.6 282.8,828.5 283.2,830.6 C283.6,832.7 281.5,835.1 280.6,837.0 C279.8,838.9 279.6,840.4 278.1,842.1 C276.6,843.8 274.1,845.4 271.8,847.1 C269.5,848.8 266.1,850.1 264.2,852.2 C262.3,854.3 262.0,857.7 260.3,859.8 C258.6,861.9 256.5,863.2 254.0,864.9 C251.5,866.6 247.8,868.5 245.1,870.0 C242.3,871.5 239.8,872.5 237.5,873.8 C235.2,875.1 232.2,877.0 231.2,877.6" fill="none" stroke="#f01414" stroke-width="1.5" stroke-linejoin="round" stroke-linecap="round" />
<path d="M209.6,710.9 C209.2,711.4 206.9,712.6 207.1,714.0 C207.3,715.4 209.8,717.1 210.9,719.0 C212.0,720.9 212.6,723.3 213.4,725.4 C214.2,727.5 216.6,729.8 216.0,731.7 C215.4,733.6 211.3,735.3 209.6,736.8 C207.9,738.3 205.8,738.9 205.8,740.6 C205.8,742.3 208.6,744.6 209.6,746.9 C210.6,749.2 210.8,752.0 212.1,754.5 C213.4,757.0 215.3,759.9 217.2,762.2 C219.1,764.5 221.7,766.4 223.6,768.5 C225.5,770.6 226.5,772.7 228.6,774.8 C230.7,776.9 233.6,779.1 236.3,781.2 C239.1,783.3 243.2,785.4 245.1,787.5 C247.0,789.6 246.6,791.6 247.7,793.9 C248.8,796.2 250.4,799.2 251.5,801.5 C252.6,803.8 252.3,805.9 254.0,807.8 C255.7,809.7 259.6,811.0 261.6,812.9 C263.6,814.8 265.4,816.9 266.2,819.2 C267.0,821.5 266.8,824.4 266.7,826.9 C266.6,829.4 266.0,832.0 265.4,834.5 C264.8,837.0 264.4,839.8 262.9,842.1 C261.4,844.4 258.5,846.5 256.6,848.4 C254.7,850.3 252.8,851.6 251.5,853.5 C250.2,855.4 250.5,857.7 249.0,859.8 C247.5,861.9 245.2,864.3 242.6,866.2 C240.0,868.1 235.5,869.3 233.7,871.2 C231.9,873.1 232.0,876.5 231.7,877.6" fill="none" stroke="#1a1af0" stroke-width="1.5" stroke-linejoin="round" stroke-linecap="round" />
<rect x="240" y="703.5" width="89.9" height="52.9" fill="#fff" stroke="#6a6a6a" stroke-width="1"/><line x1="241.8" y1="713.4" x2="272.9" y2="713.4" stroke="#111" stroke-width="1.6"/><text x="276.9" y="718.3" font-size="14" text-anchor="start" fill="#111" >cycle 1</text><line x1="241.8" y1="730.2" x2="272.9" y2="730.2" stroke="#f01414" stroke-width="1.6"/><text x="276.9" y="735.1" font-size="14" text-anchor="start" fill="#111" >cycle 2</text><line x1="241.8" y1="747.1" x2="272.9" y2="747.1" stroke="#1a1af0" stroke-width="1.6"/><text x="276.9" y="752.0" font-size="14" text-anchor="start" fill="#111" >cycle 10</text>
</g>
<g id="panelI">
<rect x="381.2" y="700" width="36.1" height="38.1" fill="#fff" stroke="#333" stroke-width="1"/>
<text x="395.2" y="726.6" font-size="19" text-anchor="middle" fill="#111" >i</text>
<line x1="476.5" y1="707.8" x2="476.5" y2="875.7" stroke="#151515" stroke-width="1.4"/><line x1="476.0" y1="875.7" x2="631.7" y2="875.7" stroke="#151515" stroke-width="1.4"/><line x1="471.0" y1="708.3" x2="476.5" y2="708.3" stroke="#151515" stroke-width="1.4"/><line x1="473.5" y1="729.2" x2="476.5" y2="729.2" stroke="#151515" stroke-width="1.4"/><line x1="472.3" y1="750.1" x2="476.5" y2="750.1" stroke="#151515" stroke-width="1.4"/><line x1="473.5" y1="771.1" x2="476.5" y2="771.1" stroke="#151515" stroke-width="1.4"/><line x1="471.0" y1="792.0" x2="476.5" y2="792.0" stroke="#151515" stroke-width="1.4"/><line x1="473.5" y1="812.9" x2="476.5" y2="812.9" stroke="#151515" stroke-width="1.4"/><line x1="472.3" y1="833.9" x2="476.5" y2="833.9" stroke="#151515" stroke-width="1.4"/><line x1="473.5" y1="854.8" x2="476.5" y2="854.8" stroke="#151515" stroke-width="1.4"/><line x1="471.0" y1="875.7" x2="476.5" y2="875.7" stroke="#151515" stroke-width="1.4"/><line x1="490.4" y1="875.7" x2="490.4" y2="880.7" stroke="#151515" stroke-width="1.4"/><text x="490.4" y="891.2" font-size="11.9" text-anchor="middle" fill="#111" >-2.0</text><line x1="525.6" y1="875.7" x2="525.6" y2="880.7" stroke="#151515" stroke-width="1.4"/><text x="525.6" y="891.2" font-size="11.9" text-anchor="middle" fill="#111" >-1.5</text><line x1="560.8" y1="875.7" x2="560.8" y2="880.7" stroke="#151515" stroke-width="1.4"/><text x="560.8" y="891.2" font-size="11.9" text-anchor="middle" fill="#111" >-1.0</text><line x1="596" y1="875.7" x2="596" y2="880.7" stroke="#151515" stroke-width="1.4"/><text x="596" y="891.2" font-size="11.9" text-anchor="middle" fill="#111" >-0.5</text><line x1="631.2" y1="875.7" x2="631.2" y2="880.7" stroke="#151515" stroke-width="1.4"/><text x="631.2" y="891.2" font-size="11.9" text-anchor="middle" fill="#111" >0.0</text><line x1="508.0" y1="875.7" x2="508.0" y2="878.7" stroke="#151515" stroke-width="1.4"/><line x1="543.2" y1="875.7" x2="543.2" y2="878.7" stroke="#151515" stroke-width="1.4"/><line x1="578.4" y1="875.7" x2="578.4" y2="878.7" stroke="#151515" stroke-width="1.4"/><line x1="613.6" y1="875.7" x2="613.6" y2="878.7" stroke="#151515" stroke-width="1.4"/>
<text x="641.6" y="891.2" font-size="11.9" text-anchor="start" fill="#111" >x10</text>
<text x="660.8" y="885.5" font-size="9" text-anchor="start" fill="#111" >-2</text>
<text x="458.8" y="713.3" font-size="13.6" text-anchor="end" fill="#111" >top</text>
<text x="470.2" y="798.0" font-size="13.8" text-anchor="end" fill="#111" >middle</text>
<text x="472.1" y="880.9" font-size="14" text-anchor="end" fill="#111" >bottom</text>
<text x="526" y="912.7" font-size="13.6" fill="#111">Strain ε<tspan dy="3.5" font-size="9.5">yy</tspan></text>
<g transform="translate(0,0.7)">
<path d="M536.1,708.4 C535.5,708.7 534.2,709.0 532.3,710.1 C530.4,711.2 527.2,713.3 524.7,715.2 C522.2,717.1 519.6,719.9 517.1,721.6 C514.6,723.3 512.7,723.7 509.5,725.4 C506.3,727.1 501.5,729.6 498.1,731.7 C494.7,733.8 490.3,735.9 489.2,738.0 C488.1,740.1 490.6,742.5 491.7,744.4 C492.8,746.3 493.8,747.8 495.5,749.5 C497.2,751.2 498.9,752.6 501.9,754.5 C504.9,756.4 509.7,758.8 513.3,760.9 C516.9,763.0 520.4,764.9 523.4,767.2 C526.4,769.5 528.0,772.7 531.0,774.8 C534.0,776.9 538.7,778.0 541.2,779.9 C543.7,781.8 544.9,784.3 546.2,786.2 C547.5,788.1 547.3,789.8 548.8,791.3 C550.3,792.8 553.4,793.4 555.1,795.1 C556.8,796.8 558.3,799.4 558.9,801.5 C559.5,803.6 557.6,805.7 558.9,807.8 C560.2,809.9 565.0,812.3 566.5,814.2 C568.0,816.1 568.2,817.3 567.8,819.2 C567.4,821.1 564.5,823.5 564.0,825.6 C563.5,827.7 564.9,829.8 564.5,831.9 C564.1,834.0 561.8,836.0 561.5,838.3 C561.2,840.6 562.6,843.6 562.7,845.9 C562.8,848.2 561.8,849.9 562.2,852.2 C562.6,854.5 565.1,857.5 565.3,859.8 C565.5,862.1 562.9,864.5 563.5,866.2 C564.1,867.9 566.5,868.9 569.1,870.0 C571.7,871.1 576.5,872.2 579.2,873.0 C581.9,873.8 584.1,874.7 585.1,875.0" fill="none" stroke="#1a1a1a" stroke-width="1.5" stroke-linejoin="round" stroke-linecap="round" />
<path d="M532.3,708.9 C531.2,709.8 528.1,712.1 526.0,714.0 C523.9,715.9 521.7,718.4 519.6,720.3 C517.5,722.2 515.2,723.5 513.3,725.4 C511.4,727.3 510.3,729.6 508.2,731.7 C506.1,733.8 501.2,736.1 500.6,738.0 C500.0,739.9 503.1,741.4 504.4,743.1 C505.7,744.8 507.6,746.5 508.2,748.2 C508.8,749.9 506.9,751.4 508.2,753.3 C509.5,755.2 512.6,757.5 515.8,759.6 C519.0,761.7 524.2,763.7 527.2,766.0 C530.2,768.3 531.3,771.5 533.6,773.6 C535.9,775.7 538.9,776.7 541.2,778.6 C543.5,780.5 546.7,783.1 547.5,785.0 C548.3,786.9 545.4,788.4 546.2,790.1 C547.1,791.8 551.3,793.0 552.6,795.1 C553.9,797.2 553.9,800.4 553.9,802.7 C553.9,805.0 551.5,807.0 552.6,809.1 C553.7,811.2 558.7,813.5 560.2,815.4 C561.7,817.3 561.9,818.6 561.5,820.5 C561.1,822.4 558.6,824.5 557.7,826.8 C556.9,829.1 557.2,832.2 556.4,834.5 C555.5,836.8 553.6,838.7 552.6,840.8 C551.6,842.9 550.4,845.0 550.1,847.1 C549.8,849.2 550.0,851.4 550.8,853.5 C551.6,855.6 555.0,857.7 555.1,859.8 C555.2,861.9 551.1,864.3 551.3,866.2 C551.5,868.1 553.9,869.9 556.4,871.2 C558.9,872.5 563.8,873.2 566.5,873.8 C569.2,874.4 571.8,874.8 572.9,875.0" fill="none" stroke="#f01414" stroke-width="1.5" stroke-linejoin="round" stroke-linecap="round" />
<path d="M518.9,708.4 C519.2,708.9 521.2,709.8 520.9,711.4 C520.6,713.0 518.2,715.7 517.1,717.8 C516.0,719.9 515.4,722.0 514.5,724.1 C513.6,726.2 514.1,728.3 512.0,730.4 C509.9,732.5 503.6,735.3 501.9,736.8 C500.2,738.3 500.6,738.0 501.9,739.3 C503.2,740.6 507.4,743.1 509.5,744.4 C511.6,745.7 514.1,745.6 514.5,746.9 C514.9,748.2 511.6,750.3 512.0,752.0 C512.4,753.7 514.6,755.4 517.1,757.1 C519.6,758.8 524.2,760.3 527.2,762.2 C530.2,764.1 533.1,766.4 534.8,768.5 C536.5,770.6 535.5,772.7 537.4,774.8 C539.3,776.9 544.3,779.1 546.2,781.2 C548.1,783.3 548.6,785.8 548.8,787.5 C549.0,789.2 546.9,789.8 547.5,791.3 C548.1,792.8 551.5,794.3 552.6,796.4 C553.8,798.5 554.2,801.7 554.4,804.0 C554.6,806.3 553.5,808.3 553.9,810.4 C554.3,812.5 557.1,814.4 556.9,816.7 C556.7,819.0 553.7,821.8 552.6,824.3 C551.5,826.8 551.6,829.4 550.1,831.9 C548.6,834.4 545.7,837.4 543.7,839.5 C541.7,841.6 539.0,842.7 538.1,844.6 C537.2,846.5 537.9,848.7 538.6,851.0 C539.3,853.3 542.3,856.1 542.4,858.6 C542.5,861.1 538.7,864.1 539.1,866.2 C539.5,868.3 541.9,869.8 545.0,871.2 C548.1,872.6 553.1,873.8 557.7,874.5 C562.4,875.2 570.4,875.2 572.9,875.3" fill="none" stroke="#1a1af0" stroke-width="1.5" stroke-linejoin="round" stroke-linecap="round" />
</g>
<rect x="551" y="702.4" width="89.6" height="53.5" fill="#fff" stroke="#6a6a6a" stroke-width="1"/><line x1="553.2" y1="712.6" x2="583.8" y2="712.6" stroke="#111" stroke-width="1.6"/><text x="588.0" y="717.5" font-size="14" text-anchor="start" fill="#111" >cycle 1</text><line x1="553.2" y1="729.5" x2="583.8" y2="729.5" stroke="#f01414" stroke-width="1.6"/><text x="588.0" y="734.4" font-size="14" text-anchor="start" fill="#111" >cycle 2</text><line x1="553.2" y1="746.4" x2="583.8" y2="746.4" stroke="#1a1af0" stroke-width="1.6"/><text x="588.0" y="751.3" font-size="14" text-anchor="start" fill="#111" >cycle 10</text>
</g>
</svg>
</body></html>
